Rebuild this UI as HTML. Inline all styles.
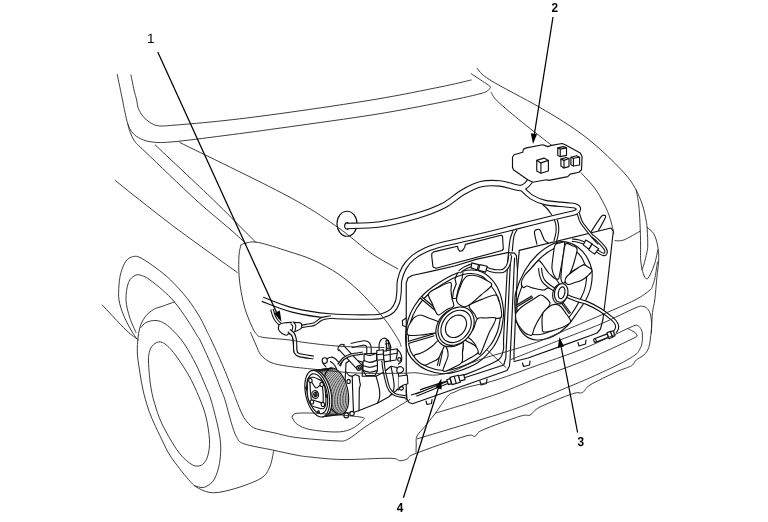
<!DOCTYPE html>
<html><head><meta charset="utf-8"><title>A/C component location</title>
<style>
html,body{margin:0;padding:0;background:#fff;}
body{width:768px;height:522px;overflow:hidden;position:relative;font-family:"Liberation Sans",sans-serif;}
svg{position:absolute;left:0;top:0;display:block;will-change:transform}
.t{fill:none;stroke:#262626;stroke-width:.9;stroke-linecap:round;stroke-linejoin:round}
.m{fill:none;stroke:#111;stroke-width:1.15;stroke-linecap:round;stroke-linejoin:round}
.w{fill:#fff;stroke:#111;stroke-width:1.15;stroke-linecap:round;stroke-linejoin:round}
.k{fill:none;stroke:#000;stroke-width:1.25;stroke-linecap:butt}
.g{fill:none;stroke:#111;stroke-width:.8}
.lbl{text-rendering:geometricPrecision;font-family:"Liberation Sans",sans-serif;font-size:13px;fill:#000}
.b{font-weight:bold}
</style></head><body>
<svg width="768" height="522" viewBox="0 0 768 522">
<rect width="768" height="522" fill="#fff"/>
<path class="m" d="M406.25 400.00L406.25 283.00L408.00 278.00L412.00 275.50L431.00 271.40L454.70 266.00L476.00 259.40L507.50 252.60L514.40 253.10L516.40 255.60L517.50 270.00"/>
<path class="m" d="M517.50 270.00L514.75 335.00L514.00 352.00L514.00 360.00"/>
<path class="m" d="M519.30 250.40L517.50 270.00"/>
<path class="m" d="M514.60 258.00L514.00 270.00L511.25 335.00L510.00 360.00L509.50 366.00L507.00 370.50L412.50 403.75L409.00 402.50L407.00 399.00L406.25 390.00"/>
<path class="m" d="M512.80 231.50C512.37 232.75 510.90 235.58 510.20 239.00C509.50 242.42 509.09 246.83 508.60 252.00C508.11 257.17 508.06 256.17 507.25 270.00C506.44 283.83 504.38 321.83 503.75 335.00C503.12 348.17 504.12 345.10 503.50 349.00C502.88 352.90 502.15 355.90 500.00 358.40C497.85 360.90 496.85 361.13 490.60 364.00C484.35 366.87 474.22 371.32 462.50 375.60C450.78 379.88 427.33 387.35 420.30 389.70"/>
<path class="m" d="M516.90 230.00C516.40 231.08 514.67 233.00 513.90 236.50C513.13 240.00 512.57 248.58 512.30 251.00"/>
<path class="m" d="M510.00 270.00L506.90 335.00L505.80 358.00L503.75 365.00L411.25 395.00"/>
<path class="m" d="M510.90 254.00L510.00 270.00"/>
<path class="m" d="M433.75 251.90L457.50 246.25L458.20 249.30L460.00 251.30L462.50 250.60L464.60 247.50L465.40 244.40L501.00 235.20L502.50 236.00L503.30 249.00L502.00 250.50L436.00 268.30L433.00 267.00L431.70 256.00L431.90 253.40Z"/>
<path class="m" d="M426.00 401.00L427.00 404.50L431.50 403.50L432.00 399.50"/>
<path class="m" d="M480.00 381.00L481.00 385.00L486.50 383.50L487.00 379.00"/>
<path class="m" d="M406.25 318.00L402.40 320.50L402.60 325.50L406.25 327.00"/>
<path class="m" d="M519.30 250.40L611.00 228.00L613.30 231.25L607.80 280.00L603.00 319.00L600.50 329.00L597.00 333.00L590.60 335.50L562.50 345.60L528.00 358.00L514.00 361.50"/>
<path class="m" d="M522.50 363.00L523.50 366.50L529.50 365.00L530.00 361.00"/>
<path class="m" d="M578.00 342.50L579.00 346.00L585.50 344.00L586.00 340.00"/>
<path class="m" d="M536.90 244.20C536.48 242.18 534.33 234.55 534.40 232.10C534.47 229.65 536.32 229.78 537.30 229.50C538.27 229.22 539.07 228.65 540.25 230.40C541.43 232.15 543.07 237.92 544.40 240.00C545.73 242.08 547.57 242.42 548.20 242.90"/>
<path class="m" d="M591.00 231.90C592.67 229.40 598.83 219.65 601.00 216.90C603.17 214.15 603.27 215.30 604.00 215.40C604.73 215.50 606.32 214.97 605.40 217.50C604.48 220.03 599.65 228.42 598.50 230.60"/>
<path class="m" d="M408.00 320.00C409.46 314.71 411.54 310.62 414.25 306.25C416.96 301.88 420.08 297.71 424.25 293.75C428.42 289.79 434.04 285.83 439.25 282.50C444.46 279.17 450.29 275.83 455.50 273.75C460.71 271.67 465.92 270.21 470.50 270.00C475.08 269.79 479.04 270.42 483.00 272.50C486.96 274.58 491.33 278.75 494.25 282.50C497.17 286.25 498.96 290.42 500.50 295.00C502.04 299.58 503.08 305.83 503.50 310.00C503.92 314.17 503.50 316.25 503.00 320.00C502.50 323.75 502.17 327.92 500.50 332.50C498.83 337.08 496.75 342.50 493.00 347.50C489.25 352.50 483.83 358.54 478.00 362.50C472.17 366.46 463.83 369.38 458.00 371.25C452.17 373.12 448.21 373.96 443.00 373.75C437.79 373.54 431.33 371.88 426.75 370.00C422.17 368.12 418.62 365.42 415.50 362.50C412.38 359.58 409.67 356.58 408.00 352.50C406.33 348.42 405.50 343.42 405.50 338.00C405.50 332.58 406.54 325.29 408.00 320.00Z"/>
<path class="m" d="M410.50 322.00C411.87 317.08 413.92 312.75 416.50 308.50C419.08 304.25 422.00 300.33 426.00 296.50C430.00 292.67 435.50 288.75 440.50 285.50C445.50 282.25 451.08 279.00 456.00 277.00C460.92 275.00 465.75 273.67 470.00 273.50C474.25 273.33 478.08 274.08 481.50 276.00C484.92 277.92 487.75 281.42 490.50 285.00C493.25 288.58 496.33 293.33 498.00 297.50C499.67 301.67 500.17 306.25 500.50 310.00C500.83 313.75 500.50 316.42 500.00 320.00C499.50 323.58 499.08 327.33 497.50 331.50C495.92 335.67 494.08 340.33 490.50 345.00C486.92 349.67 481.50 355.67 476.00 359.50C470.50 363.33 463.00 366.17 457.50 368.00C452.00 369.83 447.92 370.67 443.00 370.50C438.08 370.33 432.25 368.75 428.00 367.00C423.75 365.25 420.42 362.67 417.50 360.00C414.58 357.33 412.03 354.67 410.50 351.00C408.97 347.33 408.30 342.83 408.30 338.00C408.30 333.17 409.13 326.92 410.50 322.00Z"/>
<path d="M420.50 297.00L435.50 309.50" fill="none" stroke="#111" stroke-width="3.10" stroke-linecap="butt" stroke-linejoin="round"/>
<path d="M420.50 297.00L435.50 309.50" fill="none" stroke="#fff" stroke-width="0.90" stroke-linecap="butt" stroke-linejoin="round"/>
<path d="M408.00 342.50L434.00 334.80" fill="none" stroke="#111" stroke-width="3.10" stroke-linecap="butt" stroke-linejoin="round"/>
<path d="M408.00 342.50L434.00 334.80" fill="none" stroke="#fff" stroke-width="0.90" stroke-linecap="butt" stroke-linejoin="round"/>
<path d="M441.80 350.50L438.30 366.00" fill="none" stroke="#111" stroke-width="3.10" stroke-linecap="butt" stroke-linejoin="round"/>
<path d="M441.80 350.50L438.30 366.00" fill="none" stroke="#fff" stroke-width="0.90" stroke-linecap="butt" stroke-linejoin="round"/>
<path class="m" d="M457.50 273.00L455.00 279.00L456.20 284.00L453.50 291.00L452.50 298.50"/>
<path class="m" d="M463.00 272.50L461.70 280.00L458.00 290.00L456.20 298.50"/>
<path class="m" d="M452.50 298.50L456.20 298.50"/>
<path class="w" d="M428.60 293.75C429.77 291.08 435.35 288.88 439.00 287.00C442.65 285.12 448.50 282.00 450.50 282.50C452.50 283.00 450.79 287.50 451.00 290.00C451.21 292.50 451.32 294.79 451.75 297.50C452.18 300.21 454.39 304.25 453.60 306.25C452.81 308.25 449.50 308.04 447.00 309.50C444.50 310.96 440.52 314.71 438.60 315.00C436.68 315.29 436.60 313.25 435.50 311.25C434.40 309.25 433.15 305.92 432.00 303.00C430.85 300.08 427.43 296.42 428.60 293.75Z"/>
<path class="w" d="M456.75 301.25C455.92 299.00 457.38 295.50 458.00 293.00C458.62 290.50 459.67 288.33 460.50 286.25C461.33 284.17 461.96 282.17 463.00 280.50C464.04 278.83 465.25 277.13 466.75 276.25C468.25 275.37 470.12 275.20 472.00 275.20C473.88 275.20 475.83 275.53 478.00 276.25C480.17 276.97 482.71 278.04 485.00 279.50C487.29 280.96 492.42 282.42 491.75 285.00C491.08 287.58 484.75 291.67 481.00 295.00C477.25 298.33 472.25 303.08 469.25 305.00C466.25 306.92 465.08 307.12 463.00 306.50C460.92 305.88 457.58 303.50 456.75 301.25Z"/>
<path class="w" d="M469.25 305.60C470.46 303.17 477.38 301.17 481.75 299.40C486.12 297.63 492.71 294.90 495.50 295.00C498.29 295.10 497.67 298.12 498.50 300.00C499.33 301.88 500.08 303.33 500.50 306.25C500.92 309.17 502.75 315.54 501.00 317.50C499.25 319.46 493.83 317.79 490.00 318.00C486.17 318.21 480.58 319.42 478.00 318.75C475.42 318.08 475.96 316.19 474.50 314.00C473.04 311.81 468.04 308.03 469.25 305.60Z"/>
<path class="w" d="M477.40 318.75C479.48 316.92 482.98 318.12 486.00 318.00C489.02 317.88 494.33 316.75 495.50 318.00C496.67 319.25 494.04 323.08 493.00 325.50C491.96 327.92 490.58 329.58 489.25 332.50C487.92 335.42 486.46 339.46 485.00 343.00C483.54 346.54 481.67 352.17 480.50 353.75C479.33 355.33 478.83 353.96 478.00 352.50C477.17 351.04 476.50 347.00 475.50 345.00C474.50 343.00 473.25 341.96 472.00 340.50C470.75 339.04 467.75 338.17 468.00 336.25C468.25 334.33 471.93 331.92 473.50 329.00C475.07 326.08 475.32 320.58 477.40 318.75Z"/>
<path class="w" d="M463.60 340.00C464.65 339.42 467.52 341.46 469.50 342.50C471.48 343.54 474.08 344.58 475.50 346.25C476.92 347.92 478.92 350.54 478.00 352.50C477.08 354.46 472.71 356.33 470.00 358.00C467.29 359.67 463.08 362.58 461.75 362.50C460.42 362.42 461.89 359.17 462.00 357.50C462.11 355.83 462.20 354.42 462.40 352.50C462.60 350.58 463.00 348.08 463.20 346.00C463.40 343.92 462.55 340.58 463.60 340.00Z"/>
<path class="w" d="M445.50 345.00C446.21 344.38 449.67 346.33 451.75 346.25C453.83 346.17 456.12 345.04 458.00 344.50C459.88 343.96 462.25 341.75 463.00 343.00C463.75 344.25 462.71 348.75 462.50 352.00C462.29 355.25 463.25 359.92 461.75 362.50C460.25 365.08 456.21 366.04 453.50 367.50C450.79 368.96 447.25 370.83 445.50 371.25C443.75 371.67 443.00 371.38 443.00 370.00C443.00 368.62 444.67 365.29 445.50 363.00C446.33 360.71 447.67 358.42 448.00 356.25C448.33 354.08 447.92 351.88 447.50 350.00C447.08 348.12 444.79 345.62 445.50 345.00Z"/>
<path class="w" d="M414.25 355.60C414.67 354.28 418.42 354.23 420.50 353.30C422.58 352.37 424.67 351.30 426.75 350.00C428.83 348.70 430.92 347.17 433.00 345.50C435.08 343.83 437.38 340.08 439.25 340.00C441.12 339.92 443.88 343.00 444.25 345.00C444.62 347.00 442.54 349.71 441.50 352.00C440.46 354.29 439.75 357.00 438.00 358.75C436.25 360.50 433.29 361.46 431.00 362.50C428.71 363.54 426.42 365.21 424.25 365.00C422.08 364.79 419.67 362.82 418.00 361.25C416.33 359.68 413.83 356.93 414.25 355.60Z"/>
<path class="w" d="M408.00 327.50C408.50 325.33 409.96 323.67 411.00 322.00C412.04 320.33 412.67 318.67 414.25 317.50C415.83 316.33 418.21 314.95 420.50 315.00C422.79 315.05 424.88 316.55 428.00 317.80C431.12 319.05 437.67 320.88 439.25 322.50C440.83 324.12 437.92 325.83 437.50 327.50C437.08 329.17 438.33 331.42 436.75 332.50C435.17 333.58 430.71 333.58 428.00 334.00C425.29 334.42 423.83 334.83 420.50 335.00C417.17 335.17 410.08 336.25 408.00 335.00C405.92 333.75 407.50 329.67 408.00 327.50Z"/>
<path class="w" d="M467.12 337.40C466.22 338.55 465.21 339.65 464.14 340.63C463.07 341.61 461.91 342.52 460.72 343.29C459.54 344.05 458.27 344.72 457.02 345.24C455.76 345.76 454.46 346.16 453.19 346.41C451.93 346.66 450.64 346.78 449.41 346.75C448.19 346.72 446.97 346.54 445.84 346.23C444.71 345.92 443.62 345.47 442.63 344.89C441.65 344.32 440.73 343.60 439.93 342.78C439.13 341.96 438.43 341.01 437.85 339.99C437.28 338.97 436.81 337.83 436.49 336.65C436.16 335.47 435.96 334.19 435.90 332.90C435.84 331.61 435.91 330.25 436.11 328.90C436.31 327.56 436.65 326.18 437.11 324.84C437.57 323.50 438.16 322.15 438.86 320.88C439.55 319.61 440.38 318.36 441.28 317.20C442.18 316.05 443.19 314.95 444.26 313.97C445.33 312.99 446.49 312.08 447.68 311.31C448.86 310.55 450.13 309.88 451.38 309.36C452.64 308.84 453.94 308.44 455.21 308.19C456.47 307.94 457.76 307.82 458.99 307.85C460.21 307.88 461.43 308.06 462.56 308.37C463.69 308.68 464.78 309.13 465.77 309.71C466.75 310.28 467.67 311.00 468.47 311.82C469.27 312.64 469.97 313.59 470.55 314.61C471.12 315.63 471.59 316.77 471.91 317.95C472.24 319.13 472.44 320.41 472.50 321.70C472.56 322.99 472.49 324.35 472.29 325.70C472.09 327.04 471.75 328.42 471.29 329.76C470.83 331.10 470.24 332.45 469.54 333.72C468.85 334.99 468.02 336.24 467.12 337.40Z"/>
<path class="w" d="M468.87 336.17C467.98 337.31 466.98 338.40 465.92 339.36C464.87 340.33 463.72 341.22 462.55 341.98C461.38 342.73 460.14 343.39 458.90 343.90C457.66 344.42 456.38 344.81 455.13 345.05C453.87 345.30 452.60 345.41 451.39 345.38C450.18 345.35 448.98 345.18 447.87 344.87C446.75 344.56 445.67 344.11 444.70 343.54C443.73 342.97 442.82 342.26 442.03 341.46C441.24 340.65 440.54 339.71 439.98 338.71C439.41 337.70 438.95 336.57 438.63 335.41C438.30 334.24 438.11 332.98 438.04 331.71C437.98 330.43 438.05 329.09 438.25 327.77C438.44 326.44 438.78 325.07 439.23 323.76C439.68 322.44 440.27 321.11 440.95 319.85C441.63 318.60 442.45 317.36 443.33 316.23C444.22 315.09 445.22 314.00 446.28 313.04C447.33 312.07 448.48 311.18 449.65 310.42C450.82 309.67 452.06 309.01 453.30 308.50C454.54 307.98 455.82 307.59 457.07 307.35C458.33 307.10 459.60 306.99 460.81 307.02C462.02 307.05 463.22 307.22 464.33 307.53C465.45 307.84 466.53 308.29 467.50 308.86C468.47 309.43 469.38 310.14 470.17 310.94C470.96 311.75 471.66 312.69 472.22 313.69C472.79 314.70 473.25 315.83 473.57 316.99C473.90 318.16 474.09 319.42 474.16 320.69C474.22 321.97 474.15 323.31 473.95 324.63C473.76 325.96 473.42 327.33 472.97 328.64C472.52 329.96 471.93 331.29 471.25 332.55C470.57 333.80 469.75 335.04 468.87 336.17Z"/>
<path class="m" d="M466.74 334.71C465.99 335.67 465.14 336.59 464.25 337.41C463.36 338.23 462.40 338.99 461.41 339.63C460.43 340.28 459.38 340.84 458.34 341.28C457.30 341.72 456.22 342.05 455.17 342.27C454.12 342.48 453.05 342.58 452.04 342.57C451.02 342.55 450.02 342.41 449.08 342.16C448.15 341.91 447.25 341.53 446.44 341.06C445.62 340.59 444.87 340.00 444.21 339.32C443.56 338.65 442.98 337.87 442.51 337.02C442.04 336.18 441.66 335.23 441.40 334.26C441.13 333.28 440.97 332.22 440.93 331.15C440.88 330.07 440.95 328.94 441.12 327.83C441.30 326.71 441.59 325.56 441.97 324.45C442.36 323.34 442.86 322.21 443.44 321.15C444.02 320.09 444.71 319.05 445.46 318.09C446.21 317.13 447.06 316.21 447.95 315.39C448.84 314.57 449.80 313.81 450.79 313.17C451.77 312.52 452.82 311.96 453.86 311.52C454.90 311.08 455.98 310.75 457.03 310.53C458.08 310.32 459.15 310.22 460.16 310.23C461.18 310.25 462.18 310.39 463.12 310.64C464.05 310.89 464.95 311.27 465.76 311.74C466.58 312.21 467.33 312.80 467.99 313.48C468.64 314.15 469.22 314.93 469.69 315.78C470.16 316.62 470.54 317.57 470.80 318.54C471.07 319.52 471.23 320.58 471.27 321.65C471.32 322.73 471.25 323.86 471.08 324.97C470.90 326.09 470.61 327.24 470.23 328.35C469.84 329.46 469.34 330.59 468.76 331.65C468.18 332.71 467.49 333.75 466.74 334.71Z"/>
<path class="m" d="M463.41 332.09C462.89 332.75 462.30 333.39 461.68 333.96C461.07 334.53 460.40 335.05 459.71 335.50C459.03 335.94 458.30 336.33 457.58 336.63C456.85 336.94 456.10 337.17 455.37 337.32C454.64 337.46 453.90 337.53 453.20 337.52C452.49 337.51 451.79 337.41 451.15 337.23C450.50 337.06 449.87 336.80 449.30 336.47C448.74 336.14 448.21 335.72 447.76 335.26C447.30 334.79 446.89 334.24 446.57 333.65C446.24 333.07 445.98 332.41 445.79 331.73C445.61 331.05 445.49 330.32 445.46 329.57C445.43 328.83 445.47 328.04 445.59 327.27C445.71 326.49 445.91 325.70 446.18 324.92C446.44 324.15 446.79 323.37 447.19 322.64C447.60 321.90 448.07 321.18 448.59 320.51C449.11 319.85 449.70 319.21 450.32 318.64C450.93 318.07 451.60 317.55 452.29 317.10C452.97 316.66 453.70 316.27 454.42 315.97C455.15 315.66 455.90 315.43 456.63 315.28C457.36 315.14 458.10 315.07 458.80 315.08C459.51 315.09 460.21 315.19 460.85 315.37C461.50 315.54 462.13 315.80 462.70 316.13C463.26 316.46 463.79 316.88 464.24 317.34C464.70 317.81 465.11 318.36 465.43 318.95C465.76 319.53 466.02 320.19 466.21 320.87C466.39 321.55 466.51 322.28 466.54 323.03C466.57 323.77 466.53 324.56 466.41 325.33C466.29 326.11 466.09 326.90 465.82 327.68C465.56 328.45 465.21 329.23 464.81 329.96C464.40 330.70 463.93 331.42 463.41 332.09Z"/>
<path class="m" d="M515.75 292.50C517.33 286.46 520.96 277.50 524.50 271.25C528.04 265.00 532.21 259.58 537.00 255.00C541.79 250.42 548.46 245.93 553.25 243.75C558.04 241.57 561.58 241.28 565.75 241.90C569.92 242.53 574.71 244.90 578.25 247.50C581.79 250.10 584.71 253.54 587.00 257.50C589.29 261.46 591.38 266.25 592.00 271.25C592.62 276.25 591.79 282.71 590.75 287.50C589.71 292.29 587.83 296.04 585.75 300.00C583.67 303.96 581.38 306.88 578.25 311.25C575.12 315.62 571.17 322.08 567.00 326.25C562.83 330.42 558.25 333.96 553.25 336.25C548.25 338.54 541.79 340.21 537.00 340.00C532.21 339.79 527.83 337.92 524.50 335.00C521.17 332.08 518.58 327.08 517.00 322.50C515.42 317.92 515.21 312.50 515.00 307.50C514.79 302.50 514.17 298.54 515.75 292.50Z"/>
<path class="m" d="M518.50 296.00C520.17 291.00 523.58 281.08 527.00 275.00C530.42 268.92 534.50 263.92 539.00 259.50C543.50 255.08 549.67 250.67 554.00 248.50C558.33 246.33 561.42 246.08 565.00 246.50C568.58 246.92 572.58 248.92 575.50 251.00C578.42 253.08 580.67 255.67 582.50 259.00C584.33 262.33 586.00 266.50 586.50 271.00C587.00 275.50 586.42 281.50 585.50 286.00C584.58 290.50 583.46 293.17 581.00 298.00C578.54 302.83 574.33 310.25 570.75 315.00C567.17 319.75 563.88 323.42 559.50 326.50C555.12 329.58 549.29 332.25 544.50 333.50C539.71 334.75 534.50 335.08 530.75 334.00C527.00 332.92 524.21 330.17 522.00 327.00C519.79 323.83 518.33 318.67 517.50 315.00C516.67 311.33 516.83 308.17 517.00 305.00C517.17 301.83 516.83 301.00 518.50 296.00Z"/>
<path d="M515.75 306.50L532.50 296.50" fill="none" stroke="#111" stroke-width="2.70" stroke-linecap="butt" stroke-linejoin="round"/>
<path d="M515.75 306.50L532.50 296.50" fill="none" stroke="#fff" stroke-width="0.50" stroke-linecap="butt" stroke-linejoin="round"/>
<path d="M571.40 272.80L584.50 265.20" fill="none" stroke="#111" stroke-width="2.90" stroke-linecap="butt" stroke-linejoin="round"/>
<path d="M571.40 272.80L584.50 265.20" fill="none" stroke="#fff" stroke-width="0.70" stroke-linecap="butt" stroke-linejoin="round"/>
<path d="M562.00 302.50L570.00 313.50" fill="none" stroke="#111" stroke-width="2.70" stroke-linecap="butt" stroke-linejoin="round"/>
<path d="M562.00 302.50L570.00 313.50" fill="none" stroke="#fff" stroke-width="0.50" stroke-linecap="butt" stroke-linejoin="round"/>
<path class="w" d="M521.40 282.50C521.61 280.50 523.15 277.58 524.50 275.50C525.85 273.42 527.83 271.83 529.50 270.00C531.17 268.17 532.93 266.07 534.50 264.50C536.07 262.93 537.48 260.52 538.90 260.60C540.32 260.68 541.44 263.02 543.00 265.00C544.56 266.98 546.58 270.50 548.25 272.50C549.92 274.50 551.46 275.58 553.00 277.00C554.54 278.42 556.33 279.33 557.50 281.00C558.67 282.67 560.25 285.50 560.00 287.00C559.75 288.50 557.96 289.83 556.00 290.00C554.04 290.17 550.38 288.00 548.25 288.00C546.12 288.00 545.75 289.98 543.25 290.00C540.75 290.02 535.96 288.77 533.25 288.10C530.54 287.43 528.67 286.10 527.00 286.00C525.33 285.90 524.18 288.08 523.25 287.50C522.32 286.92 521.19 284.50 521.40 282.50Z"/>
<path class="w" d="M552.00 268.75C551.67 265.42 552.48 260.96 553.00 257.00C553.52 253.04 553.93 247.33 555.10 245.00C556.27 242.67 558.43 243.42 560.00 243.00C561.57 242.58 563.92 240.83 564.50 242.50C565.08 244.17 563.92 249.67 563.50 253.00C563.08 256.33 562.50 259.67 562.00 262.50C561.50 265.33 561.08 267.25 560.50 270.00C559.92 272.75 559.42 277.83 558.50 279.00C557.58 280.17 556.08 278.71 555.00 277.00C553.92 275.29 552.33 272.08 552.00 268.75Z"/>
<path class="w" d="M562.00 265.00C562.42 260.83 562.88 257.54 563.50 254.00C564.12 250.46 564.42 245.17 565.75 243.75C567.08 242.33 569.62 244.67 571.50 245.50C573.38 246.33 576.42 246.50 577.00 248.75C577.58 251.00 575.83 255.67 575.00 259.00C574.17 262.33 573.08 265.92 572.00 268.75C570.92 271.58 569.83 273.62 568.50 276.00C567.17 278.38 565.25 282.50 564.00 283.00C562.75 283.50 561.33 282.00 561.00 279.00C560.67 276.00 561.58 269.17 562.00 265.00Z"/>
<path class="w" d="M567.00 276.25C568.67 274.42 572.29 271.88 575.00 270.00C577.71 268.12 581.08 265.50 583.25 265.00C585.42 264.50 586.54 266.07 588.00 267.00C589.46 267.93 592.08 269.10 592.00 270.60C591.92 272.10 589.17 274.43 587.50 276.00C585.83 277.57 584.08 278.92 582.00 280.00C579.92 281.08 577.29 281.75 575.00 282.50C572.71 283.25 569.92 284.75 568.25 284.50C566.58 284.25 565.21 282.38 565.00 281.00C564.79 279.62 565.33 278.08 567.00 276.25Z"/>
<path class="w" d="M515.75 313.75C516.58 311.67 518.92 309.38 521.00 307.50C523.08 305.62 526.00 304.00 528.25 302.50C530.50 301.00 532.42 299.75 534.50 298.50C536.58 297.25 538.83 295.08 540.75 295.00C542.67 294.92 544.46 296.50 546.00 298.00C547.54 299.50 550.46 301.58 550.00 304.00C549.54 306.42 544.92 310.25 543.25 312.50C541.58 314.75 541.04 315.83 540.00 317.50C538.96 319.17 538.00 320.58 537.00 322.50C536.00 324.42 534.83 326.92 534.00 329.00C533.17 331.08 533.00 334.08 532.00 335.00C531.00 335.92 529.25 334.92 528.00 334.50C526.75 334.08 526.00 333.92 524.50 332.50C523.00 331.08 520.42 328.08 519.00 326.00C517.58 323.92 516.54 322.04 516.00 320.00C515.46 317.96 514.92 315.83 515.75 313.75Z"/>
<path class="w" d="M543.25 312.50C544.05 311.08 545.54 309.75 547.00 308.50C548.46 307.25 550.42 305.67 552.00 305.00C553.58 304.33 555.04 304.25 556.50 304.50C557.96 304.75 559.17 305.00 560.75 306.50C562.33 308.00 564.33 311.04 566.00 313.50C567.67 315.96 570.58 319.33 570.75 321.25C570.92 323.17 568.46 323.96 567.00 325.00C565.54 326.04 564.33 326.58 562.00 327.50C559.67 328.42 556.12 329.77 553.00 330.50C549.88 331.23 545.03 332.48 543.25 331.90C541.47 331.32 542.51 328.57 542.30 327.00C542.09 325.43 542.02 324.17 542.00 322.50C541.98 320.83 541.99 318.67 542.20 317.00C542.41 315.33 542.45 313.92 543.25 312.50Z"/>
<path d="M540.00 268.00C540.17 269.17 540.42 272.83 541.00 275.00C541.58 277.17 542.08 279.08 543.50 281.00C544.92 282.92 547.25 284.83 549.50 286.50C551.75 288.17 554.50 289.58 557.00 291.00C559.50 292.42 561.17 293.50 564.50 295.00C567.83 296.50 573.25 298.67 577.00 300.00C580.75 301.33 583.17 301.38 587.00 303.00C590.83 304.62 595.75 307.03 600.00 309.70C604.25 312.37 609.75 316.62 612.50 319.00C615.25 321.38 615.75 322.50 616.50 324.00C617.25 325.50 617.25 326.67 617.00 328.00C616.75 329.33 615.33 331.33 615.00 332.00" fill="none" stroke="#111" stroke-width="4.10" stroke-linecap="butt" stroke-linejoin="round"/>
<path d="M540.00 268.00C540.17 269.17 540.42 272.83 541.00 275.00C541.58 277.17 542.08 279.08 543.50 281.00C544.92 282.92 547.25 284.83 549.50 286.50C551.75 288.17 554.50 289.58 557.00 291.00C559.50 292.42 561.17 293.50 564.50 295.00C567.83 296.50 573.25 298.67 577.00 300.00C580.75 301.33 583.17 301.38 587.00 303.00C590.83 304.62 595.75 307.03 600.00 309.70C604.25 312.37 609.75 316.62 612.50 319.00C615.25 321.38 615.75 322.50 616.50 324.00C617.25 325.50 617.25 326.67 617.00 328.00C616.75 329.33 615.33 331.33 615.00 332.00" fill="none" stroke="#fff" stroke-width="1.90" stroke-linecap="butt" stroke-linejoin="round"/>
<path class="w" d="M567.04 295.50C566.86 296.34 566.60 297.20 566.26 297.98C565.93 298.76 565.52 299.52 565.06 300.19C564.60 300.85 564.07 301.47 563.51 301.98C562.95 302.48 562.34 302.91 561.72 303.22C561.10 303.53 560.45 303.74 559.81 303.84C559.18 303.93 558.53 303.91 557.92 303.78C557.31 303.65 556.71 303.40 556.17 303.06C555.63 302.72 555.11 302.26 554.68 301.72C554.24 301.19 553.85 300.55 553.55 299.86C553.25 299.17 553.01 298.39 552.86 297.59C552.71 296.80 552.64 295.93 552.66 295.09C552.68 294.24 552.78 293.35 552.96 292.50C553.14 291.66 553.40 290.80 553.74 290.02C554.07 289.24 554.48 288.48 554.94 287.81C555.40 287.15 555.93 286.53 556.49 286.02C557.05 285.52 557.66 285.09 558.28 284.78C558.90 284.47 559.55 284.26 560.19 284.16C560.82 284.07 561.47 284.09 562.08 284.22C562.69 284.35 563.29 284.60 563.83 284.94C564.37 285.28 564.89 285.74 565.32 286.28C565.76 286.81 566.15 287.45 566.45 288.14C566.75 288.83 566.99 289.61 567.14 290.41C567.29 291.20 567.36 292.07 567.34 292.91C567.32 293.76 567.22 294.65 567.04 295.50Z"/>
<path class="w" d="M567.66 294.37C567.49 295.17 567.24 295.97 566.93 296.71C566.62 297.44 566.24 298.16 565.81 298.79C565.39 299.41 564.90 299.99 564.38 300.47C563.87 300.95 563.30 301.35 562.74 301.65C562.17 301.94 561.56 302.15 560.98 302.24C560.40 302.33 559.80 302.31 559.25 302.19C558.69 302.08 558.14 301.85 557.64 301.53C557.15 301.21 556.68 300.78 556.28 300.28C555.88 299.78 555.53 299.18 555.25 298.53C554.98 297.89 554.76 297.16 554.63 296.41C554.50 295.66 554.44 294.85 554.46 294.05C554.48 293.26 554.58 292.42 554.74 291.63C554.91 290.83 555.16 290.03 555.47 289.29C555.78 288.56 556.16 287.84 556.59 287.21C557.01 286.59 557.50 286.01 558.02 285.53C558.53 285.05 559.10 284.65 559.66 284.35C560.23 284.06 560.84 283.85 561.42 283.76C562.00 283.67 562.60 283.69 563.15 283.81C563.71 283.92 564.26 284.15 564.76 284.47C565.25 284.79 565.72 285.22 566.12 285.72C566.52 286.22 566.87 286.82 567.15 287.47C567.42 288.11 567.64 288.84 567.77 289.59C567.90 290.34 567.96 291.15 567.94 291.95C567.92 292.74 567.82 293.58 567.66 294.37Z"/>
<path class="m" d="M564.73 293.47C564.60 294.07 564.41 294.69 564.19 295.25C563.97 295.80 563.69 296.34 563.40 296.79C563.11 297.24 562.77 297.64 562.43 297.94C562.09 298.24 561.73 298.47 561.38 298.59C561.03 298.71 560.67 298.74 560.35 298.67C560.03 298.60 559.71 298.43 559.45 298.18C559.18 297.92 558.94 297.57 558.75 297.16C558.57 296.75 558.42 296.24 558.33 295.71C558.25 295.18 558.22 294.58 558.24 293.98C558.26 293.38 558.34 292.74 558.47 292.13C558.60 291.53 558.79 290.91 559.01 290.35C559.23 289.80 559.51 289.26 559.80 288.81C560.09 288.36 560.43 287.96 560.77 287.66C561.11 287.36 561.47 287.13 561.82 287.01C562.17 286.89 562.53 286.86 562.85 286.93C563.17 287.00 563.49 287.17 563.75 287.42C564.02 287.68 564.26 288.03 564.45 288.44C564.63 288.85 564.78 289.36 564.87 289.89C564.95 290.42 564.98 291.02 564.96 291.62C564.94 292.22 564.86 292.86 564.73 293.47Z"/>
<ellipse class="m" cx="347.00" cy="223.75" rx="10.00" ry="12.50" transform="rotate(0.0 347.00 223.75)"/>
<path d="M347.00 226.00C352.50 225.73 368.25 226.13 380.00 224.40C391.75 222.67 406.92 218.73 417.50 215.60C428.08 212.47 436.00 209.45 443.50 205.60C451.00 201.75 456.25 196.07 462.50 192.50C468.75 188.93 474.75 185.72 481.00 184.20C487.25 182.68 494.50 182.97 500.00 183.40C505.50 183.83 510.50 186.03 514.00 186.80C517.50 187.57 519.00 188.22 521.00 188.00C523.00 187.78 524.42 186.75 526.00 185.50C527.58 184.25 529.75 181.33 530.50 180.50" fill="none" stroke="#111" stroke-width="6.50" stroke-linecap="butt" stroke-linejoin="round"/>
<path d="M522.00 188.50C523.58 189.92 527.67 194.67 531.50 197.00C535.33 199.33 539.25 201.20 545.00 202.50C550.75 203.80 561.00 204.23 566.00 204.80C571.00 205.37 572.95 205.32 575.00 205.90C577.05 206.48 578.05 207.32 578.30 208.30C578.55 209.28 577.72 210.92 576.50 211.80C575.28 212.68 574.83 212.63 571.00 213.60C567.17 214.57 562.67 215.37 553.50 217.60C544.33 219.83 528.92 223.78 516.00 227.00C503.08 230.22 488.25 234.00 476.00 236.90C463.75 239.80 450.90 242.22 442.50 244.40C434.10 246.58 430.52 247.82 425.60 250.00C420.68 252.18 416.53 254.58 413.00 257.50C409.47 260.42 406.62 263.75 404.40 267.50C402.18 271.25 400.60 275.92 399.70 280.00C398.80 284.08 399.37 288.33 399.00 292.00C398.63 295.67 398.58 298.92 397.50 302.00C396.42 305.08 394.92 308.25 392.50 310.50C390.08 312.75 386.42 314.42 383.00 315.50C379.58 316.58 380.83 316.92 372.00 317.00C363.17 317.08 343.25 317.17 330.00 316.00C316.75 314.83 303.75 312.78 292.50 310.00C281.25 307.22 267.50 301.08 262.50 299.30" fill="none" stroke="#111" stroke-width="5.50" stroke-linecap="butt" stroke-linejoin="round"/>
<path d="M347.00 226.00C352.50 225.73 368.25 226.13 380.00 224.40C391.75 222.67 406.92 218.73 417.50 215.60C428.08 212.47 436.00 209.45 443.50 205.60C451.00 201.75 456.25 196.07 462.50 192.50C468.75 188.93 474.75 185.72 481.00 184.20C487.25 182.68 494.50 182.97 500.00 183.40C505.50 183.83 510.50 186.03 514.00 186.80C517.50 187.57 519.00 188.22 521.00 188.00C523.00 187.78 524.42 186.75 526.00 185.50C527.58 184.25 529.75 181.33 530.50 180.50" fill="none" stroke="#fff" stroke-width="4.30" stroke-linecap="butt" stroke-linejoin="round"/>
<path d="M522.00 188.50C523.58 189.92 527.67 194.67 531.50 197.00C535.33 199.33 539.25 201.20 545.00 202.50C550.75 203.80 561.00 204.23 566.00 204.80C571.00 205.37 572.95 205.32 575.00 205.90C577.05 206.48 578.05 207.32 578.30 208.30C578.55 209.28 577.72 210.92 576.50 211.80C575.28 212.68 574.83 212.63 571.00 213.60C567.17 214.57 562.67 215.37 553.50 217.60C544.33 219.83 528.92 223.78 516.00 227.00C503.08 230.22 488.25 234.00 476.00 236.90C463.75 239.80 450.90 242.22 442.50 244.40C434.10 246.58 430.52 247.82 425.60 250.00C420.68 252.18 416.53 254.58 413.00 257.50C409.47 260.42 406.62 263.75 404.40 267.50C402.18 271.25 400.60 275.92 399.70 280.00C398.80 284.08 399.37 288.33 399.00 292.00C398.63 295.67 398.58 298.92 397.50 302.00C396.42 305.08 394.92 308.25 392.50 310.50C390.08 312.75 386.42 314.42 383.00 315.50C379.58 316.58 380.83 316.92 372.00 317.00C363.17 317.08 343.25 317.17 330.00 316.00C316.75 314.83 303.75 312.78 292.50 310.00C281.25 307.22 267.50 301.08 262.50 299.30" fill="none" stroke="#fff" stroke-width="3.30" stroke-linecap="butt" stroke-linejoin="round"/>
<path class="m" d="M348 222.6C343.5 222.8 343.5 229.4 348 229.3"/>
<path class="m" d="M542.90 204.90C543.58 205.50 545.57 206.90 547.00 208.50C548.43 210.10 550.75 213.50 551.50 214.50"/>
<path d="M555.80 219.60C556.03 220.50 556.93 223.10 557.20 225.00C557.47 226.90 557.50 229.17 557.40 231.00C557.30 232.83 556.97 234.30 556.60 236.00C556.23 237.70 555.43 240.33 555.20 241.20" fill="none" stroke="#111" stroke-width="3.70" stroke-linecap="butt" stroke-linejoin="round"/>
<path d="M555.80 219.60C556.03 220.50 556.93 223.10 557.20 225.00C557.47 226.90 557.50 229.17 557.40 231.00C557.30 232.83 556.97 234.30 556.60 236.00C556.23 237.70 555.43 240.33 555.20 241.20" fill="none" stroke="#fff" stroke-width="1.50" stroke-linecap="butt" stroke-linejoin="round"/>
<path d="M578.20 213.00C578.77 214.58 579.57 219.03 581.60 222.50C583.63 225.97 587.50 230.26 590.40 233.80C593.30 237.34 597.57 242.09 599.00 243.75" fill="none" stroke="#111" stroke-width="3.40" stroke-linecap="butt" stroke-linejoin="round"/>
<path d="M578.20 213.00C578.77 214.58 579.57 219.03 581.60 222.50C583.63 225.97 587.50 230.26 590.40 233.80C593.30 237.34 597.57 242.09 599.00 243.75" fill="none" stroke="#fff" stroke-width="1.20" stroke-linecap="butt" stroke-linejoin="round"/>
<path d="M486.50 268.70C487.42 269.00 490.42 270.08 492.00 270.50C493.58 270.92 494.22 271.12 496.00 271.20C497.78 271.28 500.95 271.53 502.70 271.00C504.45 270.47 505.45 269.33 506.50 268.00C507.55 266.67 508.38 265.08 509.00 263.00C509.62 260.92 510.00 256.75 510.20 255.50" fill="none" stroke="#111" stroke-width="4.10" stroke-linecap="butt" stroke-linejoin="round"/>
<path d="M486.50 268.70C487.42 269.00 490.42 270.08 492.00 270.50C493.58 270.92 494.22 271.12 496.00 271.20C497.78 271.28 500.95 271.53 502.70 271.00C504.45 270.47 505.45 269.33 506.50 268.00C507.55 266.67 508.38 265.08 509.00 263.00C509.62 260.92 510.00 256.75 510.20 255.50" fill="none" stroke="#fff" stroke-width="1.90" stroke-linecap="butt" stroke-linejoin="round"/>
<path d="M459.30 272.00C460.08 271.42 461.97 269.63 464.00 268.50C466.03 267.37 470.25 265.75 471.50 265.20" fill="none" stroke="#111" stroke-width="3.70" stroke-linecap="butt" stroke-linejoin="round"/>
<path d="M459.30 272.00C460.08 271.42 461.97 269.63 464.00 268.50C466.03 267.37 470.25 265.75 471.50 265.20" fill="none" stroke="#fff" stroke-width="1.50" stroke-linecap="butt" stroke-linejoin="round"/>
<path class="w" d="M471.80 262.90L478.50 264.60L477.25 270.00L471.00 267.90Z"/>
<path class="w" d="M479.75 264.60L487.25 266.25L485.60 272.10L478.50 270.40Z"/>
<path d="M596.80 250.80C597.83 251.38 601.48 253.93 603.00 254.30C604.52 254.67 605.57 253.97 605.90 253.00C606.23 252.03 606.28 250.50 605.00 248.50C603.72 246.50 600.30 243.08 598.20 241.00C596.10 238.92 593.37 236.83 592.40 236.00" fill="none" stroke="#111" stroke-width="3.50" stroke-linecap="butt" stroke-linejoin="round"/>
<path d="M596.80 250.80C597.83 251.38 601.48 253.93 603.00 254.30C604.52 254.67 605.57 253.97 605.90 253.00C606.23 252.03 606.28 250.50 605.00 248.50C603.72 246.50 600.30 243.08 598.20 241.00C596.10 238.92 593.37 236.83 592.40 236.00" fill="none" stroke="#fff" stroke-width="1.30" stroke-linecap="butt" stroke-linejoin="round"/>
<path d="M572.00 240.20C573.00 240.33 575.97 240.53 578.00 241.00C580.03 241.47 583.17 242.67 584.20 243.00" fill="none" stroke="#111" stroke-width="3.50" stroke-linecap="butt" stroke-linejoin="round"/>
<path d="M572.00 240.20C573.00 240.33 575.97 240.53 578.00 241.00C580.03 241.47 583.17 242.67 584.20 243.00" fill="none" stroke="#fff" stroke-width="1.30" stroke-linecap="butt" stroke-linejoin="round"/>
<path class="w" d="M585.75 239.90L592.00 243.70L589.10 249.50L583.25 244.90Z"/>
<path class="w" d="M592.00 244.10L598.70 248.70L594.50 254.10L588.70 249.90Z"/>
<path class="w" d="M594.40 338.80L607.20 333.90L608.40 337.40L595.60 342.40Z"/>
<ellipse class="w" cx="595.00" cy="340.60" rx="1.20" ry="1.90" transform="rotate(-20.0 595.00 340.60)"/>
<path class="w" d="M607.00 332.80L610.50 331.40L612.60 337.20L609.00 338.80Z"/>
<path class="w" d="M610.60 331.60L613.20 330.80L615.00 335.80L612.50 337.00Z"/>
<path d="M416.00 395.30C418.33 394.33 424.75 391.63 430.00 389.50C435.25 387.37 444.58 383.67 447.50 382.50" fill="none" stroke="#111" stroke-width="3.30" stroke-linecap="butt" stroke-linejoin="round"/>
<path d="M416.00 395.30C418.33 394.33 424.75 391.63 430.00 389.50C435.25 387.37 444.58 383.67 447.50 382.50" fill="none" stroke="#fff" stroke-width="1.10" stroke-linecap="butt" stroke-linejoin="round"/>
<path class="w" d="M446.80 379.80L450.00 378.60L451.60 383.60L448.40 384.60Z"/>
<path class="w" d="M450.00 377.40L458.40 375.20L460.40 382.20L452.00 384.60Z"/>
<path class="m" d="M454.20 376.30L456.20 383.40"/>
<path class="w" d="M458.60 375.80L463.80 374.60L465.00 379.60L459.90 381.00Z"/>
<path class="w" d="M512.50 157.25L514.00 154.75L522.75 152.25L523.40 149.10L526.50 147.90L542.75 144.75L547.75 146.60L551.50 145.40L562.10 143.50L565.25 144.75L580.25 152.90L582.10 156.60L581.50 169.75L579.00 172.25L570.25 174.10L567.75 176.60L549.00 180.40L546.50 179.75L532.75 182.25L527.75 179.75L513.40 169.75L512.50 167.25Z"/>
<path class="w" d="M536.75 160.40L536.75 171.00L540.90 173.25L548.40 171.00L548.40 160.40L544.00 158.10Z"/>
<path class="m" d="M536.75 160.40L540.90 162.90L548.40 160.40"/>
<path class="m" d="M540.90 162.90L540.90 173.25"/>
<path class="w" d="M557.75 147.90L557.75 155.40L560.25 156.60L566.50 155.40L566.50 147.90L563.40 146.60Z"/>
<path class="m" d="M557.75 147.90L560.25 149.10L566.50 147.90"/>
<path class="m" d="M560.25 149.10L560.25 156.60"/>
<path class="w" d="M570.90 157.25L570.90 164.75L573.40 166.00L579.60 165.00L579.60 157.25L576.50 155.75Z"/>
<path class="m" d="M570.90 157.25L573.40 158.25L579.60 157.25"/>
<path class="m" d="M573.40 158.25L573.40 166.00"/>
<path class="w" d="M560.90 159.10L560.90 166.00L564.00 167.90L569.00 166.60L569.00 158.50L565.90 157.50Z"/>
<path class="m" d="M560.90 159.10L564.00 160.40L569.00 158.50"/>
<path class="m" d="M564.00 160.40L564.00 167.90"/>
<path class="w" d="M346.00 363.00L352.00 359.00L362.25 362.00L362.25 376.25L376.00 376.25L384.00 372.00L391.00 366.25L397.00 367.50L398.50 372.00L398.50 388.25L396.00 390.75L388.50 397.00L377.25 403.25L358.50 410.75L352.00 413.00L343.50 412.50Z"/>
<path class="m" d="M376.00 376.25C376.42 377.71 377.88 382.21 378.50 385.00C379.12 387.79 379.63 390.67 379.75 393.00C379.87 395.33 379.62 397.29 379.20 399.00C378.78 400.71 377.57 402.54 377.25 403.25"/>
<path class="m" d="M391.00 366.25C391.32 367.92 392.38 373.12 392.90 376.25C393.42 379.38 394.00 382.71 394.10 385.00C394.20 387.29 394.02 388.37 393.50 390.00C392.98 391.63 391.42 394.00 391.00 394.80"/>
<path class="m" d="M352.25 376.25C352.34 379.38 352.59 389.12 352.80 395.00C353.01 400.88 353.38 408.75 353.50 411.50"/>
<path class="m" d="M359.10 376.25L359.60 381.00L360.40 385.00L359.30 388.50L359.00 410.75"/>
<path class="m" d="M352.25 376.25L355.50 374.50L359.10 376.25"/>
<path class="m" d="M346.00 372.00C346.50 372.58 347.96 374.79 349.00 375.50C350.04 376.21 351.71 376.12 352.25 376.25"/>
<path class="w" d="M347.46 388.66C347.73 389.87 347.97 391.10 348.15 392.31C348.33 393.52 348.47 394.74 348.55 395.93C348.64 397.11 348.67 398.29 348.65 399.43C348.64 400.56 348.57 401.68 348.45 402.73C348.33 403.78 348.16 404.80 347.94 405.75C347.73 406.70 347.46 407.59 347.15 408.41C346.84 409.23 346.48 409.98 346.09 410.65C345.69 411.32 345.25 411.91 344.78 412.41C344.31 412.91 343.80 413.33 343.27 413.65C342.73 413.98 342.17 414.21 341.58 414.34C341.00 414.48 340.38 414.52 339.76 414.46C339.14 414.41 338.50 414.26 337.86 414.01C337.22 413.77 336.56 413.43 335.91 413.00C335.27 412.57 334.61 412.05 333.98 411.45C333.34 410.85 332.71 410.16 332.10 409.41C331.49 408.65 330.89 407.81 330.32 406.92C329.75 406.02 329.20 405.05 328.69 404.04C328.17 403.03 327.69 401.95 327.24 400.85C326.80 399.74 326.38 398.59 326.02 397.42C325.65 396.25 325.32 395.04 325.04 393.84C324.77 392.63 324.53 391.40 324.35 390.19C324.17 388.98 324.03 387.76 323.95 386.57C323.86 385.39 323.83 384.21 323.85 383.07C323.86 381.94 323.93 380.82 324.05 379.77C324.17 378.72 324.34 377.70 324.56 376.75C324.77 375.80 325.04 374.91 325.35 374.09C325.66 373.27 326.02 372.52 326.41 371.85C326.81 371.18 327.25 370.59 327.72 370.09C328.19 369.59 328.70 369.17 329.23 368.85C329.77 368.52 330.33 368.29 330.92 368.16C331.50 368.02 332.12 367.98 332.74 368.04C333.36 368.09 334.00 368.24 334.64 368.49C335.28 368.73 335.94 369.07 336.59 369.50C337.23 369.93 337.89 370.45 338.52 371.05C339.16 371.65 339.79 372.34 340.40 373.09C341.01 373.85 341.61 374.69 342.18 375.58C342.75 376.48 343.30 377.45 343.81 378.46C344.33 379.47 344.81 380.55 345.26 381.65C345.70 382.76 346.12 383.91 346.48 385.08C346.85 386.25 347.18 387.46 347.46 388.66Z"/>
<path class="g" d="M325.58 370.94C325.76 370.75 326.27 370.13 326.64 369.80C327.01 369.48 327.40 369.19 327.80 368.97C328.20 368.74 328.62 368.56 329.06 368.44C329.49 368.31 329.93 368.24 330.39 368.23C330.84 368.21 331.31 368.24 331.78 368.33C332.25 368.42 332.73 368.56 333.21 368.76C333.69 368.95 334.18 369.20 334.67 369.49C335.15 369.79 335.64 370.14 336.12 370.53C336.60 370.93 337.08 371.37 337.55 371.86C338.02 372.34 338.49 372.88 338.94 373.45C339.40 374.03 339.84 374.64 340.28 375.30C340.71 375.95 341.13 376.64 341.53 377.36C341.94 378.08 342.33 378.84 342.70 379.62C343.06 380.40 343.42 381.21 343.75 382.04C344.08 382.87 344.39 383.72 344.67 384.59C344.96 385.46 345.23 386.34 345.46 387.23C345.70 388.13 345.92 389.03 346.11 389.94C346.29 390.84 346.46 391.76 346.59 392.66C346.72 393.57 346.83 394.48 346.91 395.37C346.99 396.26 347.04 397.15 347.06 398.02C347.08 398.89 347.08 399.75 347.04 400.59C347.01 401.42 346.95 402.24 346.86 403.02C346.77 403.81 346.65 404.57 346.50 405.30C346.35 406.03 346.18 406.73 345.98 407.39C345.78 408.05 345.56 408.68 345.31 409.26C345.06 409.84 344.78 410.39 344.49 410.89C344.19 411.38 343.87 411.84 343.53 412.24C343.19 412.65 342.83 413.01 342.46 413.32C342.08 413.62 341.68 413.88 341.27 414.09C340.86 414.30 340.21 414.47 340.00 414.55"/>
<path class="g" d="M324.00 371.15C324.18 370.96 324.68 370.34 325.05 370.01C325.42 369.68 325.81 369.40 326.22 369.18C326.62 368.95 327.04 368.77 327.47 368.65C327.90 368.52 328.35 368.45 328.81 368.43C329.26 368.42 329.73 368.45 330.20 368.54C330.67 368.63 331.15 368.77 331.63 368.97C332.11 369.16 332.60 369.41 333.08 369.70C333.57 370.00 334.05 370.35 334.53 370.74C335.02 371.13 335.50 371.58 335.97 372.07C336.44 372.55 336.90 373.09 337.36 373.66C337.81 374.23 338.26 374.85 338.69 375.50C339.12 376.16 339.55 376.85 339.95 377.57C340.35 378.29 340.74 379.05 341.11 379.83C341.48 380.61 341.83 381.42 342.16 382.25C342.49 383.08 342.80 383.93 343.09 384.80C343.38 385.66 343.64 386.55 343.88 387.44C344.12 388.33 344.33 389.24 344.52 390.15C344.71 391.05 344.87 391.96 345.01 392.87C345.14 393.78 345.25 394.68 345.33 395.58C345.41 396.47 345.46 397.36 345.48 398.23C345.50 399.10 345.50 399.96 345.46 400.79C345.43 401.63 345.36 402.45 345.27 403.23C345.18 404.02 345.06 404.78 344.92 405.51C344.77 406.24 344.60 406.94 344.40 407.60C344.20 408.26 343.97 408.89 343.72 409.47C343.48 410.05 343.20 410.60 342.90 411.09C342.61 411.59 342.29 412.05 341.95 412.45C341.61 412.86 341.25 413.22 340.87 413.53C340.50 413.83 340.10 414.09 339.69 414.30C339.28 414.50 338.63 414.68 338.41 414.76"/>
<path class="g" d="M322.42 371.36C322.59 371.17 323.10 370.55 323.47 370.22C323.84 369.89 324.23 369.61 324.63 369.38C325.04 369.16 325.46 368.98 325.89 368.85C326.32 368.73 326.77 368.66 327.22 368.64C327.68 368.62 328.14 368.66 328.61 368.75C329.09 368.84 329.57 368.98 330.05 369.17C330.53 369.37 331.01 369.61 331.50 369.91C331.98 370.21 332.47 370.55 332.95 370.95C333.43 371.34 333.91 371.79 334.38 372.27C334.85 372.76 335.32 373.30 335.78 373.87C336.23 374.44 336.68 375.06 337.11 375.71C337.54 376.36 337.96 377.06 338.37 377.78C338.77 378.50 339.16 379.26 339.53 380.04C339.90 380.82 340.25 381.63 340.58 382.46C340.91 383.28 341.22 384.14 341.51 385.01C341.79 385.87 342.06 386.76 342.30 387.65C342.54 388.54 342.75 389.45 342.94 390.35C343.13 391.26 343.29 392.17 343.42 393.08C343.56 393.98 343.66 394.89 343.74 395.79C343.82 396.68 343.87 397.57 343.90 398.44C343.92 399.31 343.91 400.17 343.88 401.00C343.84 401.84 343.78 402.65 343.69 403.44C343.60 404.23 343.48 404.99 343.33 405.72C343.19 406.45 343.01 407.15 342.82 407.81C342.62 408.47 342.39 409.10 342.14 409.68C341.89 410.26 341.62 410.81 341.32 411.30C341.03 411.80 340.71 412.26 340.37 412.66C340.03 413.07 339.67 413.43 339.29 413.73C338.91 414.04 338.52 414.30 338.11 414.51C337.70 414.71 337.04 414.89 336.83 414.97"/>
<path class="g" d="M320.83 371.56C321.01 371.38 321.52 370.76 321.89 370.43C322.26 370.10 322.65 369.82 323.05 369.59C323.45 369.36 323.87 369.19 324.31 369.06C324.74 368.94 325.18 368.87 325.64 368.85C326.09 368.83 326.56 368.87 327.03 368.96C327.50 369.05 327.98 369.19 328.46 369.38C328.94 369.58 329.43 369.82 329.92 370.12C330.40 370.41 330.89 370.76 331.37 371.16C331.85 371.55 332.33 372.00 332.80 372.48C333.27 372.97 333.74 373.51 334.19 374.08C334.65 374.65 335.09 375.27 335.53 375.92C335.96 376.57 336.38 377.26 336.78 377.99C337.19 378.71 337.58 379.46 337.95 380.24C338.31 381.02 338.67 381.84 339.00 382.66C339.33 383.49 339.64 384.35 339.92 385.22C340.21 386.08 340.48 386.97 340.71 387.86C340.95 388.75 341.17 389.66 341.36 390.56C341.54 391.47 341.71 392.38 341.84 393.29C341.97 394.19 342.08 395.10 342.16 395.99C342.24 396.89 342.29 397.78 342.31 398.65C342.33 399.52 342.33 400.38 342.29 401.21C342.26 402.04 342.20 402.86 342.11 403.65C342.02 404.43 341.90 405.20 341.75 405.93C341.60 406.66 341.43 407.36 341.23 408.02C341.03 408.68 340.81 409.30 340.56 409.89C340.31 410.47 340.03 411.01 339.74 411.51C339.44 412.01 339.12 412.46 338.78 412.87C338.44 413.27 338.08 413.63 337.71 413.94C337.33 414.25 336.93 414.51 336.52 414.71C336.11 414.92 335.46 415.10 335.25 415.18"/>
<path class="g" d="M319.25 371.77C319.43 371.58 319.93 370.97 320.30 370.64C320.67 370.31 321.06 370.03 321.47 369.80C321.87 369.57 322.29 369.39 322.72 369.27C323.15 369.15 323.60 369.08 324.06 369.06C324.51 369.04 324.98 369.08 325.45 369.17C325.92 369.25 326.40 369.40 326.88 369.59C327.36 369.78 327.85 370.03 328.33 370.33C328.82 370.62 329.30 370.97 329.78 371.37C330.27 371.76 330.75 372.20 331.22 372.69C331.69 373.18 332.15 373.71 332.61 374.29C333.06 374.86 333.51 375.48 333.94 376.13C334.37 376.78 334.80 377.47 335.20 378.19C335.60 378.91 335.99 379.67 336.36 380.45C336.73 381.23 337.08 382.04 337.41 382.87C337.74 383.70 338.05 384.56 338.34 385.42C338.63 386.29 338.89 387.18 339.13 388.07C339.37 388.96 339.58 389.87 339.77 390.77C339.96 391.68 340.12 392.59 340.26 393.49C340.39 394.40 340.50 395.31 340.58 396.20C340.66 397.10 340.71 397.99 340.73 398.86C340.75 399.73 340.75 400.59 340.71 401.42C340.68 402.25 340.61 403.07 340.52 403.86C340.43 404.64 340.31 405.41 340.17 406.14C340.02 406.86 339.85 407.56 339.65 408.22C339.45 408.88 339.22 409.51 338.97 410.09C338.73 410.68 338.45 411.22 338.15 411.72C337.86 412.22 337.54 412.67 337.20 413.08C336.86 413.48 336.50 413.84 336.12 414.15C335.75 414.46 335.35 414.72 334.94 414.92C334.53 415.13 333.88 415.31 333.66 415.38"/>
<path class="g" d="M317.67 371.98C317.84 371.79 318.35 371.17 318.72 370.85C319.09 370.52 319.48 370.24 319.88 370.01C320.29 369.78 320.71 369.60 321.14 369.48C321.57 369.36 322.02 369.28 322.47 369.27C322.93 369.25 323.39 369.29 323.86 369.37C324.34 369.46 324.82 369.61 325.30 369.80C325.78 369.99 326.26 370.24 326.75 370.54C327.23 370.83 327.72 371.18 328.20 371.57C328.68 371.97 329.16 372.41 329.63 372.90C330.10 373.39 330.57 373.92 331.03 374.49C331.48 375.07 331.93 375.69 332.36 376.34C332.79 376.99 333.21 377.68 333.62 378.40C334.02 379.12 334.41 379.88 334.78 380.66C335.15 381.44 335.50 382.25 335.83 383.08C336.16 383.91 336.47 384.77 336.76 385.63C337.04 386.50 337.31 387.39 337.55 388.28C337.79 389.17 338.00 390.08 338.19 390.98C338.38 391.88 338.54 392.80 338.67 393.70C338.81 394.61 338.91 395.52 338.99 396.41C339.07 397.30 339.12 398.19 339.15 399.06C339.17 399.93 339.16 400.79 339.13 401.63C339.09 402.46 339.03 403.28 338.94 404.07C338.85 404.85 338.73 405.62 338.58 406.34C338.44 407.07 338.26 407.77 338.07 408.43C337.87 409.09 337.64 409.72 337.39 410.30C337.14 410.89 336.87 411.43 336.57 411.93C336.28 412.43 335.96 412.88 335.62 413.29C335.28 413.69 334.92 414.05 334.54 414.36C334.16 414.67 333.77 414.93 333.36 415.13C332.95 415.34 332.29 415.52 332.08 415.59"/>
<path class="g" d="M316.08 372.19C316.26 372.00 316.77 371.38 317.14 371.05C317.51 370.73 317.90 370.44 318.30 370.22C318.70 369.99 319.12 369.81 319.56 369.69C319.99 369.56 320.43 369.49 320.89 369.48C321.34 369.46 321.81 369.49 322.28 369.58C322.75 369.67 323.23 369.81 323.71 370.01C324.19 370.20 324.68 370.45 325.17 370.74C325.65 371.04 326.14 371.39 326.62 371.78C327.10 372.18 327.58 372.62 328.05 373.11C328.52 373.59 328.99 374.13 329.44 374.70C329.90 375.28 330.34 375.89 330.78 376.55C331.21 377.20 331.63 377.89 332.03 378.61C332.44 379.33 332.83 380.09 333.20 380.87C333.56 381.65 333.92 382.46 334.25 383.29C334.58 384.12 334.89 384.97 335.17 385.84C335.46 386.71 335.73 387.59 335.96 388.48C336.20 389.38 336.42 390.28 336.61 391.19C336.79 392.09 336.96 393.01 337.09 393.91C337.22 394.82 337.33 395.73 337.41 396.62C337.49 397.51 337.54 398.40 337.56 399.27C337.58 400.14 337.58 401.00 337.54 401.84C337.51 402.67 337.45 403.49 337.36 404.27C337.27 405.06 337.15 405.82 337.00 406.55C336.85 407.28 336.68 407.98 336.48 408.64C336.28 409.30 336.06 409.93 335.81 410.51C335.56 411.09 335.28 411.64 334.99 412.14C334.69 412.63 334.37 413.09 334.03 413.49C333.69 413.90 333.33 414.26 332.96 414.57C332.58 414.87 332.18 415.13 331.77 415.34C331.36 415.55 330.71 415.72 330.50 415.80"/>
<path class="g" d="M314.50 372.40C314.68 372.21 315.18 371.59 315.55 371.26C315.92 370.93 316.31 370.65 316.72 370.43C317.12 370.20 317.54 370.02 317.97 369.90C318.40 369.77 318.85 369.70 319.31 369.68C319.76 369.67 320.23 369.70 320.70 369.79C321.17 369.88 321.65 370.02 322.13 370.22C322.61 370.41 323.10 370.66 323.58 370.95C324.07 371.25 324.55 371.60 325.03 371.99C325.52 372.38 326.00 372.83 326.47 373.32C326.94 373.80 327.40 374.34 327.86 374.91C328.31 375.48 328.76 376.10 329.19 376.75C329.62 377.41 330.05 378.10 330.45 378.82C330.85 379.54 331.24 380.30 331.61 381.08C331.98 381.86 332.33 382.67 332.66 383.50C332.99 384.33 333.30 385.18 333.59 386.05C333.88 386.91 334.14 387.80 334.38 388.69C334.62 389.58 334.83 390.49 335.02 391.40C335.21 392.30 335.37 393.21 335.51 394.12C335.64 395.03 335.75 395.93 335.83 396.83C335.91 397.72 335.96 398.61 335.98 399.48C336.00 400.35 336.00 401.21 335.96 402.04C335.93 402.88 335.86 403.70 335.77 404.48C335.68 405.27 335.56 406.03 335.42 406.76C335.27 407.49 335.10 408.19 334.90 408.85C334.70 409.51 334.47 410.14 334.22 410.72C333.98 411.30 333.70 411.85 333.40 412.34C333.11 412.84 332.79 413.30 332.45 413.70C332.11 414.11 331.75 414.47 331.37 414.78C331.00 415.08 330.60 415.34 330.19 415.55C329.78 415.75 329.13 415.93 328.91 416.01"/>
<path class="g" d="M312.92 372.61C313.09 372.42 313.60 371.80 313.97 371.47C314.34 371.14 314.73 370.86 315.13 370.63C315.54 370.41 315.96 370.23 316.39 370.10C316.82 369.98 317.27 369.91 317.72 369.89C318.18 369.87 318.64 369.91 319.11 370.00C319.59 370.09 320.07 370.23 320.55 370.42C321.03 370.62 321.51 370.86 322.00 371.16C322.48 371.46 322.97 371.80 323.45 372.20C323.93 372.59 324.41 373.04 324.88 373.52C325.35 374.01 325.82 374.55 326.28 375.12C326.73 375.69 327.18 376.31 327.61 376.96C328.04 377.61 328.46 378.31 328.87 379.03C329.27 379.75 329.66 380.51 330.03 381.29C330.40 382.07 330.75 382.88 331.08 383.71C331.41 384.53 331.72 385.39 332.01 386.26C332.29 387.12 332.56 388.01 332.80 388.90C333.04 389.79 333.25 390.70 333.44 391.60C333.63 392.51 333.79 393.42 333.92 394.33C334.06 395.23 334.16 396.14 334.24 397.04C334.32 397.93 334.37 398.82 334.40 399.69C334.42 400.56 334.41 401.42 334.38 402.25C334.34 403.09 334.28 403.90 334.19 404.69C334.10 405.48 333.98 406.24 333.83 406.97C333.69 407.70 333.51 408.40 333.32 409.06C333.12 409.72 332.89 410.35 332.64 410.93C332.39 411.51 332.12 412.06 331.82 412.55C331.53 413.05 331.21 413.51 330.87 413.91C330.53 414.32 330.17 414.68 329.79 414.98C329.41 415.29 329.02 415.55 328.61 415.76C328.20 415.96 327.54 416.14 327.33 416.22"/>
<path class="g" d="M311.33 372.81C311.51 372.63 312.02 372.01 312.39 371.68C312.76 371.35 313.15 371.07 313.55 370.84C313.95 370.61 314.37 370.44 314.81 370.31C315.24 370.19 315.68 370.12 316.14 370.10C316.59 370.08 317.06 370.12 317.53 370.21C318.00 370.30 318.48 370.44 318.96 370.63C319.44 370.83 319.93 371.07 320.42 371.37C320.90 371.66 321.39 372.01 321.87 372.41C322.35 372.80 322.83 373.25 323.30 373.73C323.77 374.22 324.24 374.76 324.69 375.33C325.15 375.90 325.59 376.52 326.03 377.17C326.46 377.82 326.88 378.51 327.28 379.24C327.69 379.96 328.08 380.71 328.45 381.49C328.81 382.27 329.17 383.09 329.50 383.91C329.83 384.74 330.14 385.60 330.42 386.47C330.71 387.33 330.98 388.22 331.21 389.11C331.45 390.00 331.67 390.91 331.86 391.81C332.04 392.72 332.21 393.63 332.34 394.54C332.47 395.44 332.58 396.35 332.66 397.24C332.74 398.14 332.79 399.03 332.81 399.90C332.83 400.77 332.83 401.63 332.79 402.46C332.76 403.29 332.70 404.11 332.61 404.90C332.52 405.68 332.40 406.45 332.25 407.18C332.10 407.91 331.93 408.61 331.73 409.27C331.53 409.93 331.31 410.55 331.06 411.14C330.81 411.72 330.53 412.26 330.24 412.76C329.94 413.26 329.62 413.71 329.28 414.12C328.94 414.52 328.58 414.88 328.21 415.19C327.83 415.50 327.43 415.76 327.02 415.96C326.61 416.17 325.96 416.35 325.75 416.43"/>
<path class="g" d="M309.75 373.02C309.93 372.83 310.43 372.22 310.80 371.89C311.17 371.56 311.56 371.28 311.97 371.05C312.37 370.82 312.79 370.64 313.22 370.52C313.65 370.40 314.10 370.33 314.56 370.31C315.01 370.29 315.48 370.33 315.95 370.42C316.42 370.50 316.90 370.65 317.38 370.84C317.86 371.03 318.35 371.28 318.83 371.58C319.32 371.87 319.80 372.22 320.28 372.62C320.77 373.01 321.25 373.45 321.72 373.94C322.19 374.43 322.65 374.96 323.11 375.54C323.56 376.11 324.01 376.73 324.44 377.38C324.87 378.03 325.30 378.72 325.70 379.44C326.10 380.16 326.49 380.92 326.86 381.70C327.23 382.48 327.58 383.29 327.91 384.12C328.24 384.95 328.55 385.81 328.84 386.67C329.13 387.54 329.39 388.43 329.63 389.32C329.87 390.21 330.08 391.12 330.27 392.02C330.46 392.93 330.62 393.84 330.76 394.74C330.89 395.65 331.00 396.56 331.08 397.45C331.16 398.35 331.21 399.24 331.23 400.11C331.25 400.98 331.25 401.84 331.21 402.67C331.18 403.50 331.11 404.32 331.02 405.11C330.93 405.89 330.81 406.66 330.67 407.39C330.52 408.11 330.35 408.81 330.15 409.47C329.95 410.13 329.72 410.76 329.47 411.34C329.23 411.93 328.95 412.47 328.65 412.97C328.36 413.47 328.04 413.92 327.70 414.33C327.36 414.73 327.00 415.09 326.62 415.40C326.25 415.71 325.85 415.97 325.44 416.17C325.03 416.38 324.38 416.56 324.16 416.63"/>
<path class="m" d="M312.92 370.66L331.92 368.16"/>
<path class="m" d="M324.58 416.34L341.58 414.34"/>
<path class="w" d="M330.66 390.86C330.93 392.07 331.17 393.30 331.35 394.51C331.53 395.72 331.67 396.94 331.75 398.13C331.84 399.31 331.87 400.49 331.85 401.63C331.84 402.76 331.77 403.88 331.65 404.93C331.53 405.98 331.36 407.00 331.14 407.95C330.93 408.90 330.66 409.79 330.35 410.61C330.04 411.43 329.68 412.18 329.29 412.85C328.89 413.52 328.45 414.11 327.98 414.61C327.51 415.11 327.00 415.53 326.47 415.85C325.93 416.18 325.37 416.41 324.78 416.54C324.20 416.68 323.58 416.72 322.96 416.66C322.34 416.61 321.70 416.46 321.06 416.21C320.42 415.97 319.76 415.63 319.11 415.20C318.47 414.77 317.81 414.25 317.18 413.65C316.54 413.05 315.91 412.36 315.30 411.61C314.69 410.85 314.09 410.01 313.52 409.12C312.95 408.22 312.40 407.25 311.89 406.24C311.37 405.23 310.89 404.15 310.44 403.05C310.00 401.94 309.58 400.79 309.22 399.62C308.85 398.45 308.52 397.24 308.24 396.04C307.97 394.83 307.73 393.60 307.55 392.39C307.37 391.18 307.23 389.96 307.15 388.77C307.06 387.59 307.03 386.41 307.05 385.27C307.06 384.14 307.13 383.02 307.25 381.97C307.37 380.92 307.54 379.90 307.76 378.95C307.97 378.00 308.24 377.11 308.55 376.29C308.86 375.47 309.22 374.72 309.61 374.05C310.01 373.38 310.45 372.79 310.92 372.29C311.39 371.79 311.90 371.37 312.43 371.05C312.97 370.72 313.53 370.49 314.12 370.36C314.70 370.22 315.32 370.18 315.94 370.24C316.56 370.29 317.20 370.44 317.84 370.69C318.48 370.93 319.14 371.27 319.79 371.70C320.43 372.13 321.09 372.65 321.72 373.25C322.36 373.85 322.99 374.54 323.60 375.29C324.21 376.05 324.81 376.89 325.38 377.78C325.95 378.68 326.50 379.65 327.01 380.66C327.53 381.67 328.01 382.75 328.46 383.85C328.90 384.96 329.32 386.11 329.68 387.28C330.05 388.45 330.38 389.66 330.66 390.86Z"/>
<path class="w" d="M328.46 391.16C328.73 392.37 328.97 393.60 329.15 394.81C329.33 396.02 329.47 397.24 329.55 398.43C329.64 399.61 329.67 400.79 329.65 401.93C329.64 403.06 329.57 404.18 329.45 405.23C329.33 406.28 329.16 407.30 328.94 408.25C328.73 409.20 328.46 410.09 328.15 410.91C327.84 411.73 327.48 412.48 327.09 413.15C326.69 413.82 326.25 414.41 325.78 414.91C325.31 415.41 324.80 415.83 324.27 416.15C323.73 416.48 323.17 416.71 322.58 416.84C322.00 416.98 321.38 417.02 320.76 416.96C320.14 416.91 319.50 416.76 318.86 416.51C318.22 416.27 317.56 415.93 316.91 415.50C316.27 415.07 315.61 414.55 314.98 413.95C314.34 413.35 313.71 412.66 313.10 411.91C312.49 411.15 311.89 410.31 311.32 409.42C310.75 408.52 310.20 407.55 309.69 406.54C309.17 405.53 308.69 404.45 308.24 403.35C307.80 402.24 307.38 401.09 307.02 399.92C306.65 398.75 306.32 397.54 306.04 396.34C305.77 395.13 305.53 393.90 305.35 392.69C305.17 391.48 305.03 390.26 304.95 389.07C304.86 387.89 304.83 386.71 304.85 385.57C304.86 384.44 304.93 383.32 305.05 382.27C305.17 381.22 305.34 380.20 305.56 379.25C305.77 378.30 306.04 377.41 306.35 376.59C306.66 375.77 307.02 375.02 307.41 374.35C307.81 373.68 308.25 373.09 308.72 372.59C309.19 372.09 309.70 371.67 310.23 371.35C310.77 371.02 311.33 370.79 311.92 370.66C312.50 370.52 313.12 370.48 313.74 370.54C314.36 370.59 315.00 370.74 315.64 370.99C316.28 371.23 316.94 371.57 317.59 372.00C318.23 372.43 318.89 372.95 319.52 373.55C320.16 374.15 320.79 374.84 321.40 375.59C322.01 376.35 322.61 377.19 323.18 378.08C323.75 378.98 324.30 379.95 324.81 380.96C325.33 381.97 325.81 383.05 326.26 384.15C326.70 385.26 327.12 386.41 327.48 387.58C327.85 388.75 328.18 389.96 328.46 391.16Z"/>
<path class="m" d="M326.66 391.58C326.90 392.61 327.10 393.67 327.26 394.71C327.42 395.75 327.54 396.80 327.62 397.82C327.69 398.84 327.73 399.86 327.72 400.83C327.71 401.80 327.65 402.76 327.56 403.67C327.46 404.57 327.33 405.44 327.15 406.26C326.97 407.07 326.75 407.84 326.49 408.54C326.24 409.24 325.94 409.89 325.61 410.46C325.28 411.03 324.91 411.54 324.52 411.97C324.13 412.39 323.70 412.75 323.25 413.03C322.80 413.30 322.33 413.50 321.83 413.61C321.34 413.72 320.83 413.76 320.31 413.71C319.78 413.65 319.24 413.52 318.70 413.31C318.16 413.10 317.61 412.80 317.06 412.43C316.52 412.06 315.96 411.61 315.43 411.09C314.89 410.58 314.35 409.98 313.84 409.33C313.32 408.68 312.81 407.95 312.33 407.18C311.85 406.41 311.38 405.57 310.95 404.70C310.51 403.83 310.09 402.90 309.72 401.95C309.34 401.00 308.98 400.01 308.67 399.00C308.36 398.00 308.08 396.96 307.84 395.92C307.60 394.89 307.40 393.83 307.24 392.79C307.08 391.75 306.96 390.70 306.88 389.68C306.81 388.66 306.77 387.64 306.78 386.67C306.79 385.70 306.85 384.74 306.94 383.83C307.04 382.93 307.17 382.06 307.35 381.24C307.53 380.43 307.75 379.66 308.01 378.96C308.26 378.26 308.56 377.61 308.89 377.04C309.22 376.47 309.59 375.96 309.98 375.53C310.37 375.11 310.80 374.75 311.25 374.47C311.70 374.20 312.17 374.00 312.67 373.89C313.16 373.78 313.67 373.74 314.19 373.79C314.72 373.85 315.26 373.98 315.80 374.19C316.34 374.40 316.89 374.70 317.44 375.07C317.98 375.44 318.54 375.89 319.07 376.41C319.61 376.92 320.15 377.52 320.66 378.17C321.18 378.82 321.69 379.55 322.17 380.32C322.65 381.09 323.12 381.93 323.55 382.80C323.99 383.67 324.41 384.60 324.78 385.55C325.16 386.50 325.52 387.49 325.83 388.50C326.14 389.50 326.42 390.54 326.66 391.58Z"/>
<path class="w" d="M308.00 378.60C309.03 377.32 311.67 377.15 313.50 377.30C315.33 377.45 317.28 378.55 319.00 379.50C320.72 380.45 322.72 380.75 323.80 383.00C324.88 385.25 325.17 389.67 325.50 393.00C325.83 396.33 326.13 400.40 325.80 403.00C325.47 405.60 324.97 407.85 323.50 408.60C322.03 409.35 319.03 408.05 317.00 407.50C314.97 406.95 312.72 406.60 311.30 405.30C309.88 404.00 309.17 401.75 308.50 399.70C307.83 397.65 307.50 395.45 307.30 393.00C307.10 390.55 307.18 387.40 307.30 385.00C307.42 382.60 306.97 379.88 308.00 378.60Z"/>
<ellipse class="w" cx="310.40" cy="380.60" rx="1.70" ry="2.10" transform="rotate(-13.0 310.40 380.60)"/>
<ellipse class="w" cx="321.70" cy="384.40" rx="1.70" ry="2.10" transform="rotate(-13.0 321.70 384.40)"/>
<ellipse class="w" cx="311.90" cy="402.00" rx="1.70" ry="2.10" transform="rotate(-13.0 311.90 402.00)"/>
<ellipse class="w" cx="322.90" cy="404.40" rx="1.70" ry="2.10" transform="rotate(-13.0 322.90 404.40)"/>
<path class="m" d="M312.00 382.50C312.67 383.42 314.70 387.50 316.00 388.00C317.30 388.50 319.17 385.92 319.80 385.50"/>
<path class="m" d="M313.50 400.20C314.17 400.42 316.25 401.10 317.50 401.50C318.75 401.90 320.42 402.42 321.00 402.60"/>
<path class="m" d="M310.00 383.00C310.08 384.50 310.28 389.23 310.50 392.00C310.72 394.77 311.17 398.33 311.30 399.60"/>
<path class="m" d="M322.50 386.80C322.62 388.17 323.08 392.47 323.20 395.00C323.32 397.53 323.20 400.83 323.20 402.00"/>
<ellipse class="w" cx="315.20" cy="394.60" rx="3.30" ry="4.00" transform="rotate(-13.0 315.20 394.60)"/>
<ellipse class="m" cx="315.40" cy="394.60" rx="1.70" ry="2.20" transform="rotate(-13.0 315.40 394.60)"/>
<ellipse class="m" cx="315.50" cy="394.60" rx="0.70" ry="0.90" transform="rotate(-13.0 315.50 394.60)"/>
<ellipse class="m" cx="306.60" cy="388.00" rx="0.90" ry="1.30" transform="rotate(-13.0 306.60 388.00)"/>
<ellipse class="m" cx="318.50" cy="412.00" rx="0.90" ry="1.20" transform="rotate(-13.0 318.50 412.00)"/>
<ellipse class="m" cx="326.30" cy="396.00" rx="0.80" ry="1.20" transform="rotate(-13.0 326.30 396.00)"/>
<ellipse class="w" cx="346.30" cy="415.40" rx="2.40" ry="2.40" transform="rotate(0.0 346.30 415.40)"/>
<ellipse class="w" cx="352.00" cy="413.50" rx="2.20" ry="2.20" transform="rotate(0.0 352.00 413.50)"/>
<ellipse class="w" cx="348.60" cy="381.40" rx="1.70" ry="2.10" transform="rotate(0.0 348.60 381.40)"/>
<ellipse class="w" cx="324.75" cy="360.60" rx="2.60" ry="2.90" transform="rotate(0.0 324.75 360.60)"/>
<path class="m" d="M326.80 358.80C327.50 358.53 329.63 357.25 331.00 357.20C332.37 357.15 333.75 357.70 335.00 358.50C336.25 359.30 337.92 361.42 338.50 362.00"/>
<path class="m" d="M323.00 363.30L326.00 367.00"/>
<path class="m" d="M330.50 361.50C331.08 362.00 333.00 363.33 334.00 364.50C335.00 365.67 336.08 367.83 336.50 368.50"/>
<path class="m" d="M340.50 366.00C340.92 365.00 341.92 361.67 343.00 360.00C344.08 358.33 345.50 356.87 347.00 356.00C348.50 355.13 351.17 355.00 352.00 354.80"/>
<path d="M341.20 347.60C342.67 349.17 346.93 353.73 350.00 357.00C353.07 360.27 358.00 365.50 359.60 367.20" fill="none" stroke="#111" stroke-width="7.30" stroke-linecap="butt" stroke-linejoin="round"/>
<path d="M341.20 347.60C342.67 349.17 346.93 353.73 350.00 357.00C353.07 360.27 358.00 365.50 359.60 367.20" fill="none" stroke="#fff" stroke-width="5.10" stroke-linecap="butt" stroke-linejoin="round"/>
<path class="m" d="M338.4 350.6C336.6 346.4 341.6 342.8 344.4 345"/>
<ellipse class="w" cx="359.30" cy="367.80" rx="2.70" ry="2.30" transform="rotate(-30.0 359.30 367.80)"/>
<ellipse class="m" cx="359.30" cy="367.80" rx="1.20" ry="1.00" transform="rotate(-30.0 359.30 367.80)"/>
<path d="M338.50 365.00C339.33 363.96 341.42 360.42 343.50 358.75C345.58 357.08 347.77 355.94 351.00 355.00C354.23 354.06 360.92 353.42 362.90 353.10" fill="none" stroke="#111" stroke-width="3.10" stroke-linecap="butt" stroke-linejoin="round"/>
<path d="M338.50 365.00C339.33 363.96 341.42 360.42 343.50 358.75C345.58 357.08 347.77 355.94 351.00 355.00C354.23 354.06 360.92 353.42 362.90 353.10" fill="none" stroke="#fff" stroke-width="0.90" stroke-linecap="butt" stroke-linejoin="round"/>
<path d="M351.20 345.60C352.67 345.27 357.78 344.03 360.00 343.60C362.22 343.17 363.17 342.85 364.50 343.00C365.83 343.15 367.25 343.58 368.00 344.50C368.75 345.42 368.87 346.92 369.00 348.50C369.13 350.08 368.83 353.08 368.80 354.00" fill="none" stroke="#111" stroke-width="5.50" stroke-linecap="butt" stroke-linejoin="round"/>
<path d="M351.20 345.60C352.67 345.27 357.78 344.03 360.00 343.60C362.22 343.17 363.17 342.85 364.50 343.00C365.83 343.15 367.25 343.58 368.00 344.50C368.75 345.42 368.87 346.92 369.00 348.50C369.13 350.08 368.83 353.08 368.80 354.00" fill="none" stroke="#fff" stroke-width="3.30" stroke-linecap="butt" stroke-linejoin="round"/>
<path class="w" d="M364.10 353.75L364.10 360.60L363.00 361.20L363.00 370.50L366.00 375.50L375.00 375.50L377.40 370.50L377.40 361.00L376.60 360.40L376.60 353.20Z"/>
<path class="m" d="M364.10 353.75C365.08 354.02 367.92 355.49 370.00 355.40C372.08 355.31 375.50 353.57 376.60 353.20"/>
<path class="m" d="M364.10 360.60C365.08 360.90 367.92 362.43 370.00 362.40C372.08 362.37 375.50 360.73 376.60 360.40"/>
<path class="m" d="M363.00 365.50C364.17 365.80 367.60 367.33 370.00 367.30C372.40 367.27 376.17 365.63 377.40 365.30"/>
<path class="m" d="M363.00 370.50C364.17 370.78 367.60 372.20 370.00 372.20C372.40 372.20 376.17 370.78 377.40 370.50"/>
<path class="w" d="M376.80 350.50L383.30 349.70L383.60 359.50L377.00 360.20Z"/>
<path class="m" d="M376.90 354.80L383.40 354.00"/>
<path class="m" d="M379.10 349.50C379.12 348.58 378.92 345.55 379.20 344.00C379.48 342.45 380.08 341.17 380.80 340.20C381.52 339.23 382.50 338.37 383.50 338.20C384.50 338.03 385.80 338.40 386.80 339.20C387.80 340.00 388.80 341.53 389.50 343.00C390.20 344.47 390.75 347.17 391.00 348.00"/>
<path class="w" d="M386.00 340.80L388.20 340.40L389.30 348.60L387.00 349.00Z"/>
<path class="m" d="M385.30 344.00L389.40 343.50"/>
<path class="w" d="M383.50 351.25L397.25 348.75L397.30 353.50L396.00 360.00L384.10 361.90L383.60 356.00Z"/>
<path class="m" d="M383.60 355.50L397.30 353.30"/>
<path class="m" d="M390.20 350.00L390.30 361.00"/>
<path class="m" d="M386.30 346.50L386.40 351.00"/>
<path class="m" d="M390.30 346.00L390.40 350.20"/>
<path class="m" d="M397.25 349.50C397.71 350.00 399.27 351.25 400.00 352.50C400.73 353.75 401.40 355.50 401.60 357.00C401.80 358.50 401.72 360.33 401.20 361.50C400.68 362.67 398.95 363.58 398.50 364.00"/>
<ellipse class="w" cx="399.30" cy="359.40" rx="1.60" ry="1.80" transform="rotate(0.0 399.30 359.40)"/>
<path class="w" d="M397.25 368.10C397.87 367.12 399.94 366.45 401.00 366.70C402.06 366.95 403.57 368.62 403.60 369.60C403.63 370.58 402.25 372.10 401.20 372.60C400.15 373.10 397.96 373.35 397.30 372.60C396.64 371.85 396.63 369.08 397.25 368.10Z"/>
<path class="w" d="M398.50 376.25L407.25 375.00L407.90 383.75L403.50 385.00L399.75 387.50L398.50 390.00"/>
<ellipse class="w" cx="401.50" cy="388.40" rx="2.00" ry="1.60" transform="rotate(-20.0 401.50 388.40)"/>
<path d="M382.90 360.50C383.05 361.75 383.38 365.38 383.80 368.00C384.22 370.62 384.62 373.00 385.40 376.25C386.18 379.50 387.48 384.88 388.50 387.50C389.52 390.12 390.25 390.75 391.50 392.00C392.75 393.25 393.58 394.18 396.00 395.00C398.42 395.82 404.33 396.58 406.00 396.90" fill="none" stroke="#111" stroke-width="3.30" stroke-linecap="butt" stroke-linejoin="round"/>
<path d="M382.90 360.50C383.05 361.75 383.38 365.38 383.80 368.00C384.22 370.62 384.62 373.00 385.40 376.25C386.18 379.50 387.48 384.88 388.50 387.50C389.52 390.12 390.25 390.75 391.50 392.00C392.75 393.25 393.58 394.18 396.00 395.00C398.42 395.82 404.33 396.58 406.00 396.90" fill="none" stroke="#fff" stroke-width="1.10" stroke-linecap="butt" stroke-linejoin="round"/>
<path d="M288.50 331.50C289.33 332.17 292.42 333.08 293.50 335.50C294.58 337.92 294.65 343.25 295.00 346.00C295.35 348.75 294.85 350.47 295.60 352.00C296.35 353.53 296.52 354.28 299.50 355.20C302.48 356.12 311.17 357.12 313.50 357.50" fill="none" stroke="#111" stroke-width="4.10" stroke-linecap="butt" stroke-linejoin="round"/>
<path d="M288.50 331.50C289.33 332.17 292.42 333.08 293.50 335.50C294.58 337.92 294.65 343.25 295.00 346.00C295.35 348.75 294.85 350.47 295.60 352.00C296.35 353.53 296.52 354.28 299.50 355.20C302.48 356.12 311.17 357.12 313.50 357.50" fill="none" stroke="#fff" stroke-width="1.90" stroke-linecap="butt" stroke-linejoin="round"/>
<path d="M271.90 309.20C272.25 310.33 273.23 314.12 274.00 316.00C274.77 317.88 275.42 319.08 276.50 320.50C277.58 321.92 279.83 323.83 280.50 324.50" fill="none" stroke="#111" stroke-width="3.70" stroke-linecap="butt" stroke-linejoin="round"/>
<path d="M271.90 309.20C272.25 310.33 273.23 314.12 274.00 316.00C274.77 317.88 275.42 319.08 276.50 320.50C277.58 321.92 279.83 323.83 280.50 324.50" fill="none" stroke="#fff" stroke-width="1.50" stroke-linecap="butt" stroke-linejoin="round"/>
<path d="M301.00 326.60C302.17 326.38 305.83 325.70 308.00 325.30C310.17 324.90 312.33 324.83 314.00 324.20C315.67 323.57 316.75 322.37 318.00 321.50C319.25 320.63 319.88 319.67 321.50 319.00C323.12 318.33 326.12 317.80 327.70 317.50C329.28 317.20 330.45 317.25 331.00 317.20" fill="none" stroke="#111" stroke-width="3.60" stroke-linecap="butt" stroke-linejoin="round"/>
<path d="M301.00 326.60C302.17 326.38 305.83 325.70 308.00 325.30C310.17 324.90 312.33 324.83 314.00 324.20C315.67 323.57 316.75 322.37 318.00 321.50C319.25 320.63 319.88 319.67 321.50 319.00C323.12 318.33 326.12 317.80 327.70 317.50C329.28 317.20 330.45 317.25 331.00 317.20" fill="none" stroke="#fff" stroke-width="1.40" stroke-linecap="butt" stroke-linejoin="round"/>
<path class="w" d="M278.40 327.20C278.48 326.20 278.63 325.20 279.50 324.50C280.37 323.80 281.68 323.35 283.60 323.00C285.52 322.65 288.22 322.42 291.00 322.40C293.78 322.38 298.53 322.38 300.30 322.90C302.07 323.42 301.45 324.58 301.60 325.50C301.75 326.42 302.13 327.45 301.20 328.40C300.27 329.35 298.03 330.35 296.00 331.20C293.97 332.05 290.60 332.83 289.00 333.50C287.40 334.17 287.48 335.15 286.40 335.20C285.32 335.25 283.73 334.58 282.50 333.80C281.27 333.02 279.68 331.60 279.00 330.50C278.32 329.40 278.32 328.20 278.40 327.20Z"/>
<path d="M291.80 322.60C292.22 323.17 294.07 324.50 294.30 326.00C294.53 327.50 293.38 330.67 293.20 331.60" fill="none" stroke="#111" stroke-width="4.10" stroke-linecap="butt" stroke-linejoin="round"/>
<path d="M291.80 322.60C292.22 323.17 294.07 324.50 294.30 326.00C294.53 327.50 293.38 330.67 293.20 331.60" fill="none" stroke="#fff" stroke-width="1.90" stroke-linecap="butt" stroke-linejoin="round"/>
<path d="M288.80 330.60C289.53 331.28 292.17 332.97 293.20 334.70C294.23 336.43 294.67 338.62 295.00 341.00C295.33 343.38 295.03 347.00 295.20 349.00C295.37 351.00 295.87 352.33 296.00 353.00" fill="none" stroke="#111" stroke-width="4.30" stroke-linecap="butt" stroke-linejoin="round"/>
<path d="M288.80 330.60C289.53 331.28 292.17 332.97 293.20 334.70C294.23 336.43 294.67 338.62 295.00 341.00C295.33 343.38 295.03 347.00 295.20 349.00C295.37 351.00 295.87 352.33 296.00 353.00" fill="none" stroke="#fff" stroke-width="2.10" stroke-linecap="butt" stroke-linejoin="round"/>
<g class="t">
<path d="M117.25 74.50C118.12 78.75 121.21 93.67 122.50 100.00C123.79 106.33 124.10 108.47 125.00 112.50C125.90 116.53 126.78 121.00 127.90 124.20C129.02 127.40 129.97 129.48 131.70 131.70C133.43 133.92 135.25 135.83 138.30 137.50C141.35 139.17 144.55 140.95 150.00 141.70C155.45 142.45 158.50 143.03 171.00 142.00C183.50 140.97 205.50 138.00 225.00 135.50C244.50 133.00 262.83 130.53 288.00 127.00C313.17 123.47 350.67 118.38 376.00 114.30C401.33 110.22 422.67 105.92 440.00 102.50C457.33 99.08 471.83 95.92 480.00 93.75C488.17 91.58 487.33 90.71 489.00 89.50C490.67 88.29 490.50 87.50 490.00 86.50C489.50 85.50 489.12 85.62 486.00 83.50C482.88 81.38 473.71 75.38 471.25 73.75"/>
<path d="M131.00 75.00C131.50 77.50 133.05 85.83 134.00 90.00C134.95 94.17 135.98 96.95 136.70 100.00C137.42 103.05 137.20 105.52 138.30 108.30C139.40 111.08 141.35 114.33 143.30 116.70C145.25 119.07 147.50 120.98 150.00 122.50C152.50 124.02 154.30 125.35 158.30 125.80C162.30 126.25 162.88 126.08 174.00 125.20C185.12 124.32 206.00 122.62 225.00 120.50C244.00 118.38 262.83 116.04 288.00 112.50C313.17 108.96 350.67 103.50 376.00 99.25C401.33 95.00 424.12 90.21 440.00 87.00C455.88 83.79 466.04 81.17 471.25 80.00"/>
<path d="M477.00 68.25C479.17 70.21 479.50 73.46 490.00 80.00C500.50 86.54 525.67 99.17 540.00 107.50C554.33 115.83 565.83 122.92 576.00 130.00C586.17 137.08 592.67 142.50 601.00 150.00C609.33 157.50 620.12 168.33 626.00 175.00C631.88 181.67 634.54 187.50 636.25 190.00"/>
<path d="M636.25 190.00C636.67 192.50 638.12 199.38 638.75 205.00C639.38 210.62 639.69 217.08 640.00 223.75C640.31 230.42 640.50 239.17 640.60 245.00C640.70 250.83 640.28 254.38 640.60 258.75C640.92 263.12 641.56 267.92 642.50 271.25C643.44 274.58 645.00 278.12 646.25 278.75C647.50 279.38 648.54 277.71 650.00 275.00C651.46 272.29 653.71 266.67 655.00 262.50C656.29 258.33 657.29 252.08 657.75 250.00"/>
<path d="M636.25 190.00C637.29 192.50 640.83 199.79 642.50 205.00C644.17 210.21 645.46 217.08 646.25 221.25C647.04 225.42 647.00 226.04 647.25 230.00C647.50 233.96 647.81 241.25 647.75 245.00C647.69 248.75 647.57 249.17 646.90 252.50C646.23 255.83 644.58 262.18 643.75 265.00C642.92 267.82 642.21 268.67 641.90 269.40"/>
<path d="M491.25 92.50C492.29 93.96 492.29 96.25 497.50 101.25C502.71 106.25 513.54 115.21 522.50 122.50C531.46 129.79 546.46 141.25 551.25 145.00"/>
<path d="M581.25 173.00C583.71 175.83 591.62 183.62 596.00 190.00C600.38 196.38 604.75 205.00 607.50 211.25C610.25 217.50 611.46 223.75 612.50 227.50C613.54 231.25 613.54 232.71 613.75 233.75"/>
<path d="M615.00 240.60C616.46 240.50 619.58 241.56 623.75 240.00C627.92 238.44 637.29 232.71 640.00 231.25"/>
<path d="M647.25 227.50C648.33 228.54 652.04 230.83 653.75 233.75C655.46 236.67 656.67 240.83 657.50 245.00C658.33 249.17 658.85 253.33 658.75 258.75C658.65 264.17 657.57 270.62 656.90 277.50C656.23 284.38 655.48 294.17 654.75 300.00C654.02 305.83 653.08 307.29 652.50 312.50C651.92 317.71 651.88 325.42 651.25 331.25C650.62 337.08 650.00 343.54 648.75 347.50C647.50 351.46 645.83 352.92 643.75 355.00C641.67 357.08 638.12 358.33 636.25 360.00C634.38 361.67 633.96 363.75 632.50 365.00C631.04 366.25 630.42 366.25 627.50 367.50C624.58 368.75 621.25 369.58 615.00 372.50C608.75 375.42 595.42 381.67 590.00 385.00C584.58 388.33 585.42 391.04 582.50 392.50C579.58 393.96 579.58 391.33 572.50 393.75C565.42 396.17 547.08 403.46 540.00 407.00C532.92 410.54 533.33 413.46 530.00 415.00C526.67 416.54 527.92 413.75 520.00 416.25C512.08 418.75 490.00 426.67 482.50 430.00C475.00 433.33 477.92 435.21 475.00 436.25C472.08 437.29 475.00 433.33 465.00 436.25C455.00 439.17 424.58 450.00 415.00 453.75C405.42 457.50 410.00 457.58 407.50 458.75C405.00 459.92 402.92 460.83 400.00 460.75C397.08 460.67 399.58 458.46 390.00 458.25C380.42 458.04 355.83 459.71 342.50 459.50C329.17 459.29 317.75 457.75 310.00 457.00C302.25 456.25 302.25 456.17 296.00 455.00C289.75 453.83 281.21 451.88 272.50 450.00C263.79 448.12 249.79 446.04 243.75 443.75C237.71 441.46 238.33 439.79 236.25 436.25C234.17 432.71 233.12 428.54 231.25 422.50C229.38 416.46 226.67 405.42 225.00 400.00C223.33 394.58 223.54 395.83 221.25 390.00C218.96 384.17 214.79 373.33 211.25 365.00C207.71 356.67 202.29 344.79 200.00 340.00C197.71 335.21 199.58 339.58 197.50 336.25C195.42 332.92 191.35 325.73 187.50 320.00C183.65 314.27 178.57 306.90 174.40 301.90C170.23 296.90 166.57 293.65 162.50 290.00C158.43 286.35 153.17 282.29 150.00 280.00C146.83 277.71 145.83 277.08 143.50 276.25C141.17 275.42 138.50 273.96 136.00 275.00C133.50 276.04 130.17 278.33 128.50 282.50C126.83 286.67 125.79 294.17 126.00 300.00C126.21 305.83 128.08 312.08 129.75 317.50C131.42 322.92 134.96 330.00 136.00 332.50"/>
<path d="M657.50 262.00C657.08 264.58 655.83 273.50 655.00 277.50C654.17 281.50 653.33 283.92 652.50 286.00C651.67 288.08 652.92 287.67 650.00 290.00C647.08 292.33 643.12 295.83 635.00 300.00C626.88 304.17 613.75 309.58 601.25 315.00C588.75 320.42 570.21 328.17 560.00 332.50C549.79 336.83 548.00 338.08 540.00 341.00C532.00 343.92 522.25 346.83 512.00 350.00C501.75 353.17 488.25 356.50 478.50 360.00C468.75 363.50 459.92 368.58 453.50 371.00C447.08 373.42 443.92 373.83 440.00 374.50C436.08 375.17 434.00 375.28 430.00 375.00C426.00 374.72 421.00 373.08 416.00 372.80C411.00 372.52 410.00 373.27 400.00 373.30C390.00 373.33 370.08 373.65 356.00 373.00C341.92 372.35 326.83 370.52 315.50 369.40C304.17 368.27 295.42 367.40 288.00 366.25C280.58 365.10 275.50 364.38 271.00 362.50C266.50 360.62 263.50 357.92 261.00 355.00C258.50 352.08 257.73 348.75 256.00 345.00C254.27 341.25 251.50 334.58 250.60 332.50"/>
<path d="M511.00 359.50C515.83 357.58 531.83 351.25 540.00 348.00C548.17 344.75 549.79 344.04 560.00 340.00C570.21 335.96 588.75 329.07 601.25 323.75C613.75 318.43 628.12 311.02 635.00 308.10C641.88 305.18 640.42 306.14 642.50 306.25C644.58 306.36 646.15 307.29 647.50 308.75C648.85 310.21 649.92 312.29 650.60 315.00C651.28 317.71 651.48 322.00 651.60 325.00C651.72 328.00 651.35 331.67 651.30 333.00"/>
<path d="M416.00 452.00C416.04 450.83 416.10 447.62 416.25 445.00C416.40 442.38 415.44 439.38 416.90 436.25C418.36 433.12 421.98 430.00 425.00 426.25C428.02 422.50 431.25 418.75 435.00 413.75C438.75 408.75 444.17 399.89 447.50 396.25C450.83 392.61 451.88 393.36 455.00 391.90C458.12 390.44 459.42 389.48 466.25 387.50C473.08 385.52 483.71 383.85 496.00 380.00C508.29 376.15 527.67 368.77 540.00 364.40C552.33 360.02 561.33 356.98 570.00 353.75C578.67 350.52 584.71 348.12 592.00 345.00C599.29 341.88 607.42 337.92 613.75 335.00C620.08 332.08 626.25 329.13 630.00 327.50C633.75 325.87 634.58 325.20 636.25 325.20C637.92 325.20 638.99 326.20 640.00 327.50C641.01 328.80 641.98 330.29 642.30 333.00C642.62 335.71 642.45 340.83 641.90 343.75C641.35 346.67 640.15 348.62 639.00 350.50C637.85 352.38 638.17 352.79 635.00 355.00C631.83 357.21 627.17 360.10 620.00 363.75C612.83 367.40 600.33 373.15 592.00 376.90C583.67 380.65 581.21 381.57 570.00 386.25C558.79 390.93 537.08 400.21 524.75 405.00C512.42 409.79 513.88 409.38 496.00 415.00C478.12 420.62 430.58 434.79 417.50 438.75"/>
<path d="M628.10 328.75C629.25 329.38 633.64 331.46 635.00 332.50C636.36 333.54 636.46 334.07 636.25 335.00C636.04 335.93 640.21 334.77 633.75 338.10C627.29 341.43 608.12 350.31 597.50 355.00C586.88 359.69 579.58 362.58 570.00 366.25C560.42 369.92 552.33 372.31 540.00 377.00C527.67 381.69 513.40 388.38 496.00 394.40C478.60 400.42 445.67 409.98 435.60 413.10"/>
<path d="M487.25 350.00L506.00 367.50"/>
<path d="M127.90 124.20C128.25 125.45 128.82 128.78 130.00 131.70C131.18 134.62 132.33 138.23 135.00 141.70C137.67 145.17 135.83 142.78 146.00 152.50C156.17 162.22 181.83 187.08 196.00 200.00C210.17 212.92 222.67 222.71 231.00 230.00C239.33 237.29 243.50 241.46 246.00 243.75"/>
<path d="M155.25 145.00C164.96 154.17 198.79 185.83 213.50 200.00C228.21 214.17 236.42 222.92 243.50 230.00C250.58 237.08 253.92 240.42 256.00 242.50"/>
<path d="M179.75 142.50C197.79 151.46 261.62 182.08 288.00 196.25C314.38 210.42 324.33 218.12 338.00 227.50C351.67 236.88 360.00 245.58 370.00 252.50C380.00 259.42 393.33 266.25 398.00 269.00"/>
<path d="M115.25 180.50C119.33 183.75 129.21 191.75 139.75 200.00C150.29 208.25 162.25 217.92 178.50 230.00C194.75 242.08 227.46 265.42 237.25 272.50"/>
<path d="M102.25 305.00C106.21 309.17 119.96 324.17 126.00 330.00C132.04 335.83 136.42 338.33 138.50 340.00"/>
<path d="M137.00 339.00C136.00 337.50 133.25 334.00 131.00 330.00C128.75 326.00 125.50 320.00 123.50 315.00C121.50 310.00 119.75 305.00 119.00 300.00C118.25 295.00 118.67 289.58 119.00 285.00C119.33 280.42 119.83 276.50 121.00 272.50C122.17 268.50 123.92 263.67 126.00 261.00C128.08 258.33 131.00 257.00 133.50 256.50C136.00 256.00 137.25 256.08 141.00 258.00C144.75 259.92 151.07 264.33 156.00 268.00C160.93 271.67 165.35 274.88 170.60 280.00C175.85 285.12 182.60 292.50 187.50 298.75C192.40 305.00 196.67 311.88 200.00 317.50C203.33 323.12 205.62 328.75 207.50 332.50C209.38 336.25 208.75 334.58 211.25 340.00C213.75 345.42 218.96 356.67 222.50 365.00C226.04 373.33 230.21 384.17 232.50 390.00C234.79 395.83 234.58 395.83 236.25 400.00C237.92 404.17 240.42 411.04 242.50 415.00C244.58 418.96 246.46 421.46 248.75 423.75C251.04 426.04 251.88 427.21 256.25 428.75C260.62 430.29 268.38 431.54 275.00 433.00C281.62 434.46 286.00 436.21 296.00 437.50C306.00 438.79 326.42 440.42 335.00 440.75C343.58 441.08 342.50 441.79 347.50 439.50C352.50 437.21 358.75 431.17 365.00 427.00C371.25 422.83 377.50 419.08 385.00 414.50C392.50 409.92 405.83 402.00 410.00 399.50"/>
<path d="M174.40 301.90C172.42 302.62 165.98 304.98 162.50 306.25C159.02 307.52 156.42 307.71 153.50 309.50C150.58 311.29 147.33 313.75 145.00 317.00C142.67 320.25 140.79 323.50 139.50 329.00C138.21 334.50 137.25 343.17 137.25 350.00C137.25 356.83 138.54 363.33 139.50 370.00C140.46 376.67 141.58 383.67 143.00 390.00C144.42 396.33 146.25 402.67 148.00 408.00C149.75 413.33 151.17 416.67 153.50 422.00C155.83 427.33 159.08 434.17 162.00 440.00C164.92 445.83 166.58 450.42 171.00 457.00C175.42 463.58 183.92 474.29 188.50 479.50C193.08 484.71 194.33 486.04 198.50 488.25C202.67 490.46 207.25 492.75 213.50 492.75C219.75 492.75 228.08 490.67 236.00 488.25C243.92 485.83 255.38 481.79 261.00 478.25C266.62 474.71 267.62 471.61 269.75 467.00C271.88 462.39 273.08 453.33 273.75 450.60"/>
<path d="M141.00 327.50C141.83 326.67 143.50 323.67 146.00 322.50C148.50 321.33 152.83 320.29 156.00 320.50C159.17 320.71 161.83 321.75 165.00 323.75C168.17 325.75 171.67 328.96 175.00 332.50C178.33 336.04 181.46 339.58 185.00 345.00C188.54 350.42 192.71 357.92 196.25 365.00C199.79 372.08 203.79 381.67 206.25 387.50C208.71 393.33 209.12 393.75 211.00 400.00C212.88 406.25 215.90 417.71 217.50 425.00C219.10 432.29 220.18 437.92 220.60 443.75C221.02 449.58 220.60 455.12 220.00 460.00C219.40 464.88 218.29 469.33 217.00 473.00C215.71 476.67 214.50 479.58 212.25 482.00C210.00 484.42 206.42 486.88 203.50 487.50C200.58 488.12 196.21 486.04 194.75 485.75"/>
<path d="M148.50 362.00C148.33 355.67 148.92 353.08 150.00 350.00C151.08 346.92 152.92 344.75 155.00 343.50C157.08 342.25 159.42 341.00 162.50 342.50C165.58 344.00 169.17 347.08 173.50 352.50C177.83 357.92 184.25 367.58 188.50 375.00C192.75 382.42 196.08 390.00 199.00 397.00C201.92 404.00 204.25 409.83 206.00 417.00C207.75 424.17 209.17 433.67 209.50 440.00C209.83 446.33 208.92 451.17 208.00 455.00C207.08 458.83 205.58 461.17 204.00 463.00C202.42 464.83 200.67 465.83 198.50 466.00C196.33 466.17 194.33 466.33 191.00 464.00C187.67 461.67 183.08 458.17 178.50 452.00C173.92 445.83 167.25 434.33 163.50 427.00C159.75 419.67 158.08 414.50 156.00 408.00C153.92 401.50 152.25 395.67 151.00 388.00C149.75 380.33 148.67 368.33 148.50 362.00Z"/>
<path d="M241.00 245.00C241.83 244.67 243.08 243.42 246.00 243.00C248.92 242.58 251.50 241.12 258.50 242.50C265.50 243.88 278.92 248.33 288.00 251.25C297.08 254.17 304.67 256.25 313.00 260.00C321.33 263.75 330.50 268.75 338.00 273.75C345.50 278.75 352.67 285.21 358.00 290.00C363.33 294.79 365.33 297.33 370.00 302.50C374.67 307.67 381.25 314.75 386.00 321.00C390.75 327.25 396.00 335.79 398.50 340.00C401.00 344.21 400.58 345.21 401.00 346.25"/>
<path d="M241.00 245.00C240.67 246.67 239.33 250.00 239.00 255.00C238.67 260.00 238.62 268.75 239.00 275.00C239.38 281.25 240.25 286.88 241.25 292.50C242.25 298.12 243.33 303.33 245.00 308.75C246.67 314.17 249.38 320.83 251.25 325.00C253.12 329.17 254.38 331.71 256.25 333.75C258.12 335.79 256.88 336.21 262.50 337.25C268.12 338.29 282.92 339.12 290.00 340.00C297.08 340.88 296.67 341.46 305.00 342.50C313.33 343.54 326.83 345.42 340.00 346.25C353.17 347.08 376.67 347.29 384.00 347.50"/>
<path d="M292.50 416.00C293.25 415.04 292.92 413.67 297.50 413.25C302.08 412.83 309.58 412.88 320.00 413.50C330.42 414.12 352.92 415.79 360.00 417.00C367.08 418.21 364.17 418.67 362.50 420.75C360.83 422.83 354.58 427.62 350.00 429.50C345.42 431.38 341.67 432.00 335.00 432.00C328.33 432.00 316.25 430.75 310.00 429.50C303.75 428.25 300.33 426.25 297.50 424.50C294.67 422.75 293.83 420.42 293.00 419.00C292.17 417.58 291.75 416.96 292.50 416.00Z"/>
</g>
<g class="m">

</g>
<text class="lbl" x="147" y="43.3" style="font-size:13.5px">1</text>
<text class="lbl b" x="551.6" y="12.4" textLength="6.6" lengthAdjust="spacingAndGlyphs">2</text>
<text class="lbl b" x="577.4" y="446.4" textLength="6.6" lengthAdjust="spacingAndGlyphs">3</text>
<text class="lbl b" x="396.7" y="512.3" textLength="6.6" lengthAdjust="spacingAndGlyphs">4</text>
<path class="k" d="M157.75 52L279.5 319"/><path d="M281.5 322L274.2 313.2L279.8 310.6Z" fill="#000"/>
<path class="k" d="M553 17L533.6 139"/><path d="M533 144L530.8 133.2L537 134.2Z" fill="#000"/>
<path class="k" d="M577.6 432.5L560.2 342"/><path d="M559.4 337L564 346.6L557.8 347.8Z" fill="#000"/>
<path class="k" d="M403.4 497.8L440 383"/><path d="M441.4 378.5L441.6 389.5L435.6 387.5Z" fill="#000"/>
</svg>
</body></html>
